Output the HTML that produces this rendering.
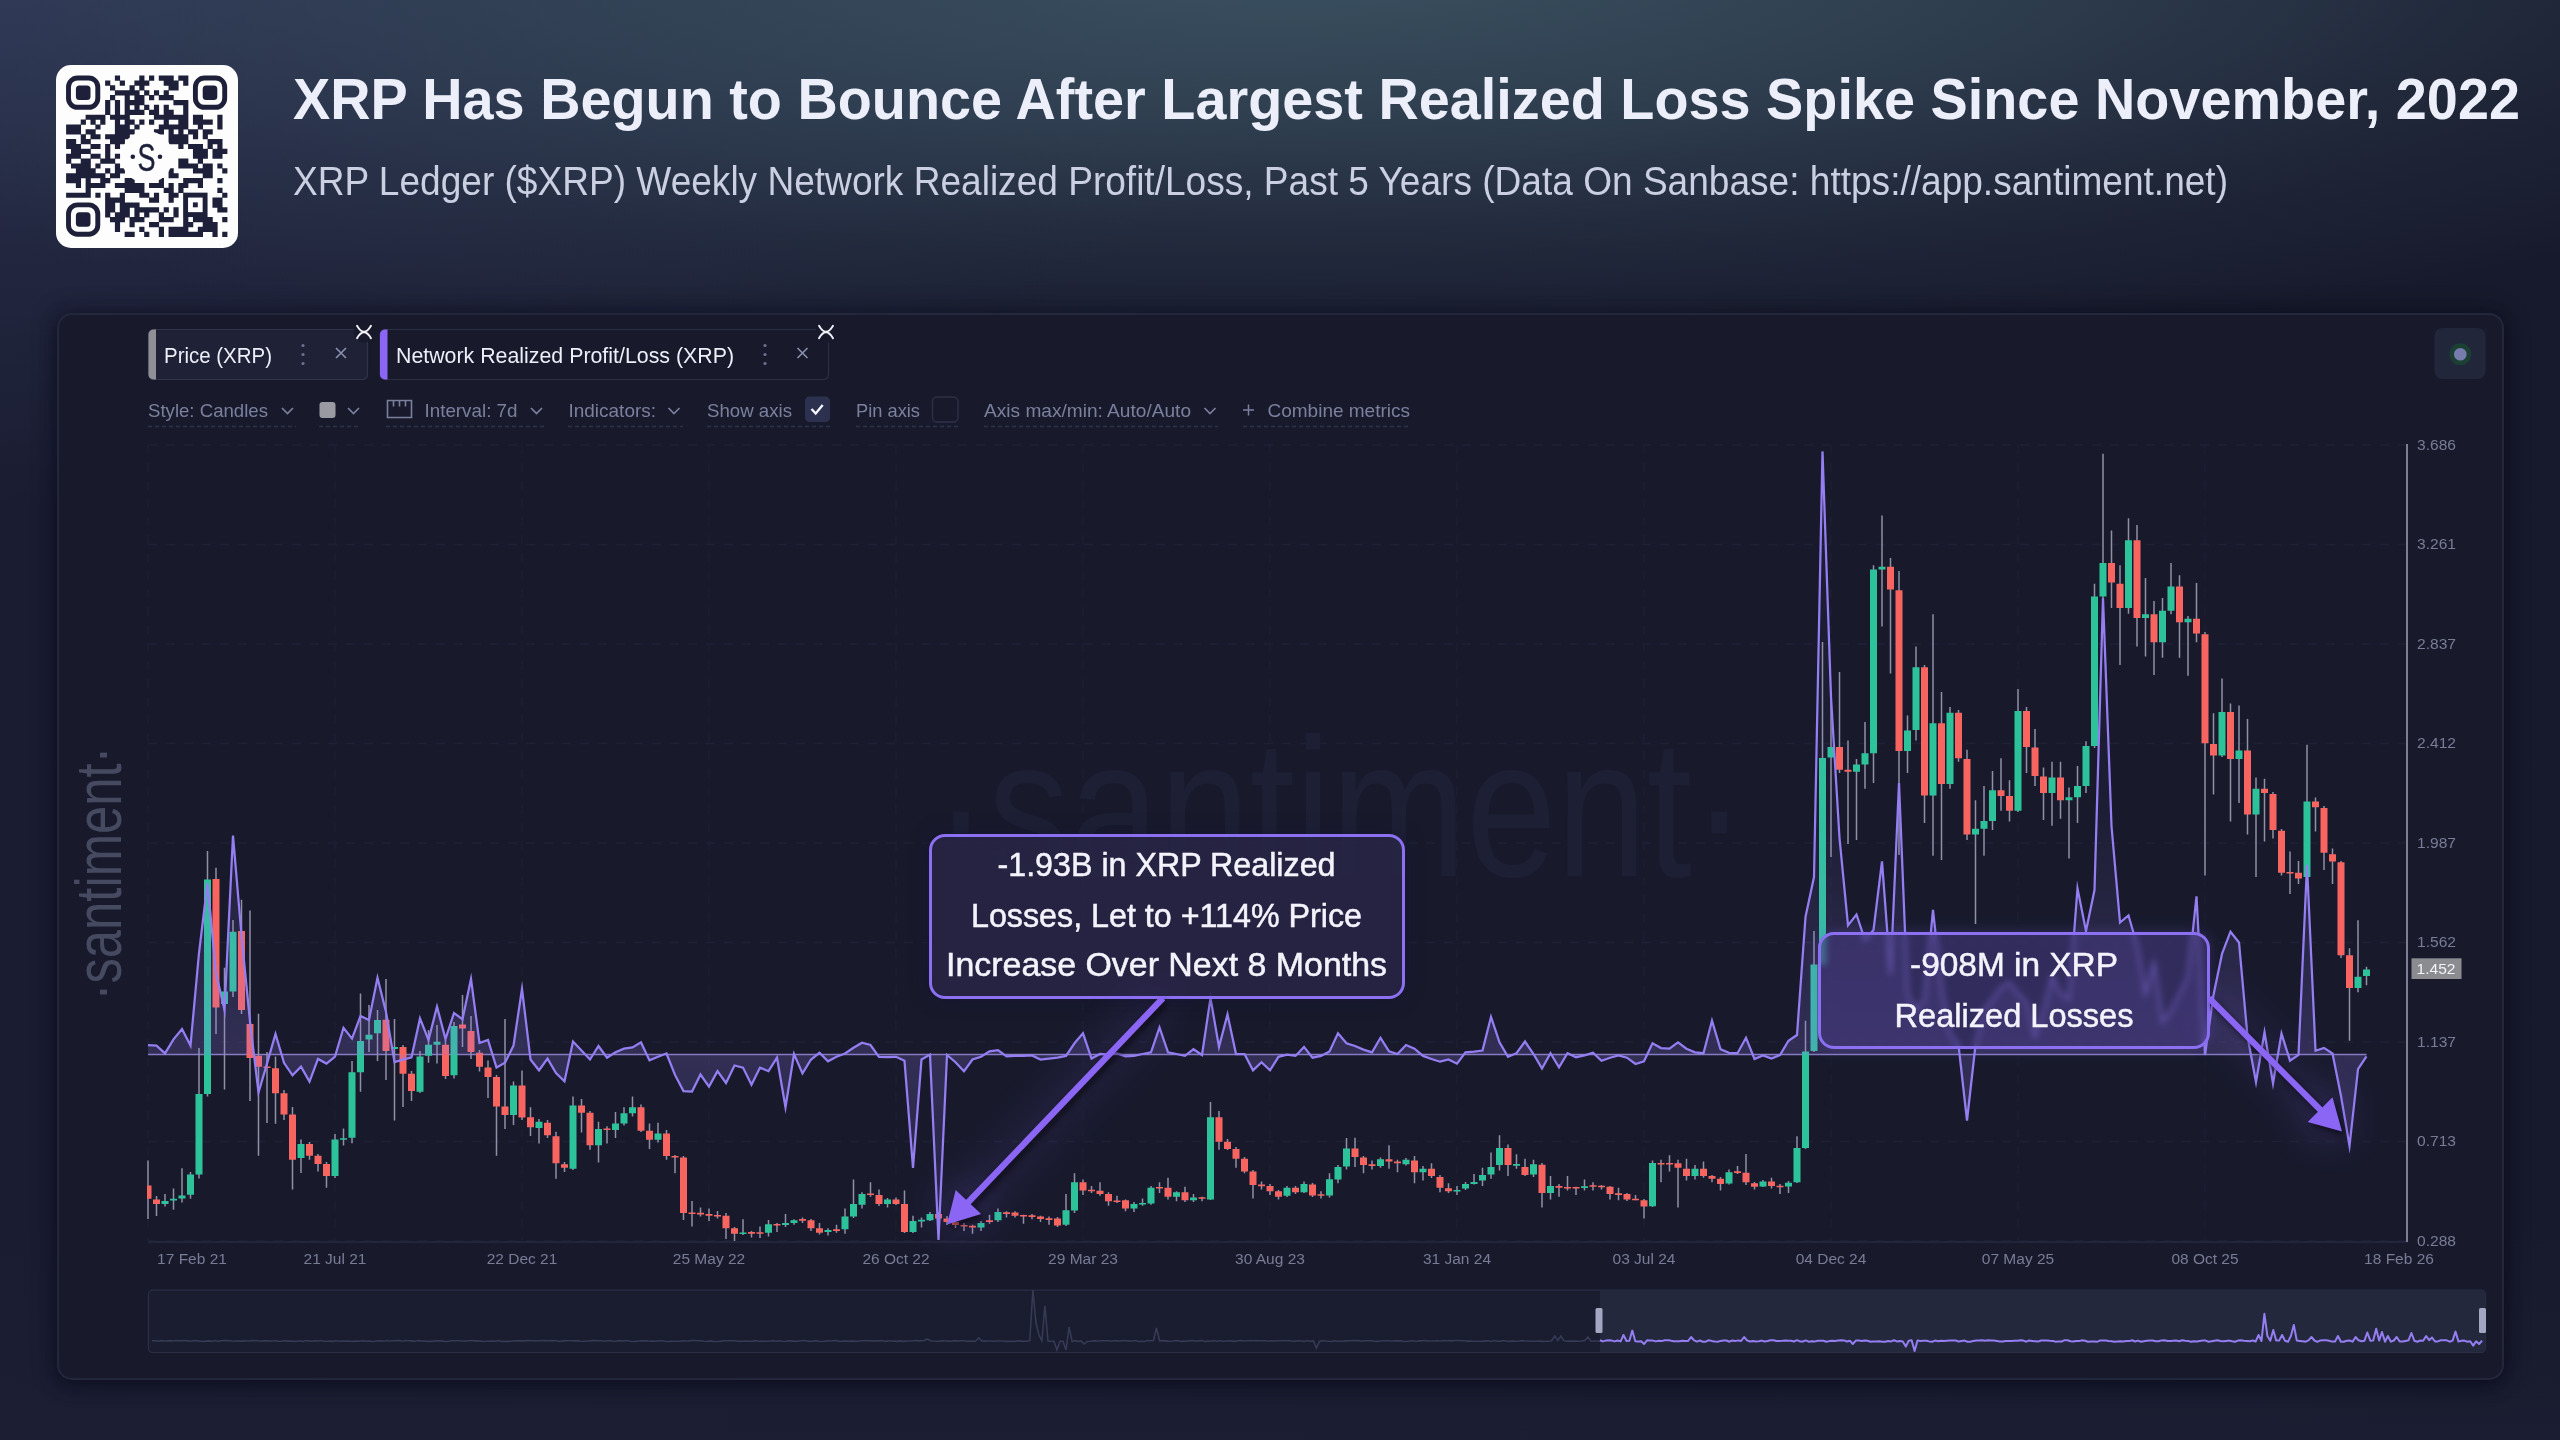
<!DOCTYPE html>
<html><head><meta charset="utf-8"><title>XRP Realized Loss</title>
<style>
html,body{margin:0;padding:0;}
body{width:2560px;height:1440px;overflow:hidden;position:relative;font-family:"Liberation Sans", sans-serif;
background:
 radial-gradient(ellipse 1800px 400px at 1300px -30px, rgba(58,80,96,1) 0%, rgba(58,80,96,0.66) 38%, rgba(58,80,96,0.22) 72%, rgba(58,80,96,0) 100%),
 radial-gradient(ellipse 1500px 620px at -100px -110px, rgba(54,62,100,0.85) 0%, rgba(54,62,100,0.3) 55%, rgba(54,62,100,0) 100%),
 linear-gradient(180deg, rgba(28,31,52,0) 0%, rgba(28,31,52,0) 85%, rgba(30,32,54,0.5) 100%),
 linear-gradient(90deg,#1a1d31 0%,#191c2f 50%,#171a2c 100%);}
.panel{position:absolute;left:57px;top:313px;width:2447px;height:1066.5px;border-radius:15px;background:#181a2c;border:2px solid #23273c;box-sizing:border-box;box-shadow:0 5px 16px rgba(8,10,26,0.6), 0 0 26px rgba(10,12,26,0.45);}
svg{position:absolute;left:0;top:0;will-change:transform;}
.ann{position:absolute;box-sizing:border-box;border:3px solid #8c70f2;border-radius:16px;color:#f3f2fb;text-align:center;font-size:32.5px;}
.ann span{position:absolute;left:0;right:0;white-space:nowrap;display:block;}
#a1{left:929px;top:834px;width:476px;height:165px;background:rgba(40,36,70,0.88);box-shadow:0 0 18px rgba(20,16,50,0.5);}
#a2{left:1818px;top:932px;width:392px;height:117px;background:rgba(72,58,132,0.56);-webkit-backdrop-filter:blur(3px);backdrop-filter:blur(3px);box-shadow:0 0 14px rgba(120,95,230,0.25);}
</style></head><body>
<div class="panel"></div>
<svg width="2560" height="1440" viewBox="0 0 2560 1440">
<rect x="56" y="65" width="182" height="183" rx="15" fill="#fdfdfe"/>
<path d="M114.89,75.60h5.18v5.18h-5.18zM139.28,75.60h5.18v5.18h-5.18zM149.04,75.60h5.18v5.18h-5.18zM158.80,75.60h5.18v5.18h-5.18zM163.68,75.60h5.18v5.18h-5.18zM168.55,75.60h5.18v5.18h-5.18zM178.31,75.60h5.18v5.18h-5.18zM183.19,75.60h5.18v5.18h-5.18zM105.13,80.48h5.18v5.18h-5.18zM119.77,80.48h5.18v5.18h-5.18zM134.40,80.48h5.18v5.18h-5.18zM139.28,80.48h5.18v5.18h-5.18zM144.16,80.48h5.18v5.18h-5.18zM163.68,80.48h5.18v5.18h-5.18zM168.55,80.48h5.18v5.18h-5.18zM173.43,80.48h5.18v5.18h-5.18zM183.19,80.48h5.18v5.18h-5.18zM110.01,85.36h5.18v5.18h-5.18zM129.52,85.36h5.18v5.18h-5.18zM139.28,85.36h5.18v5.18h-5.18zM168.55,85.36h5.18v5.18h-5.18zM173.43,85.36h5.18v5.18h-5.18zM114.89,90.24h5.18v5.18h-5.18zM119.77,90.24h5.18v5.18h-5.18zM124.65,90.24h5.18v5.18h-5.18zM129.52,90.24h5.18v5.18h-5.18zM134.40,90.24h5.18v5.18h-5.18zM144.16,90.24h5.18v5.18h-5.18zM153.92,90.24h5.18v5.18h-5.18zM163.68,90.24h5.18v5.18h-5.18zM110.01,95.12h5.18v5.18h-5.18zM124.65,95.12h5.18v5.18h-5.18zM134.40,95.12h5.18v5.18h-5.18zM139.28,95.12h5.18v5.18h-5.18zM149.04,95.12h5.18v5.18h-5.18zM158.80,95.12h5.18v5.18h-5.18zM163.68,95.12h5.18v5.18h-5.18zM168.55,95.12h5.18v5.18h-5.18zM105.13,99.99h5.18v5.18h-5.18zM114.89,99.99h5.18v5.18h-5.18zM124.65,99.99h5.18v5.18h-5.18zM129.52,99.99h5.18v5.18h-5.18zM134.40,99.99h5.18v5.18h-5.18zM139.28,99.99h5.18v5.18h-5.18zM173.43,99.99h5.18v5.18h-5.18zM178.31,99.99h5.18v5.18h-5.18zM183.19,99.99h5.18v5.18h-5.18zM105.13,104.87h5.18v5.18h-5.18zM114.89,104.87h5.18v5.18h-5.18zM124.65,104.87h5.18v5.18h-5.18zM134.40,104.87h5.18v5.18h-5.18zM144.16,104.87h5.18v5.18h-5.18zM153.92,104.87h5.18v5.18h-5.18zM163.68,104.87h5.18v5.18h-5.18zM183.19,104.87h5.18v5.18h-5.18zM105.13,109.75h5.18v5.18h-5.18zM114.89,109.75h5.18v5.18h-5.18zM124.65,109.75h5.18v5.18h-5.18zM129.52,109.75h5.18v5.18h-5.18zM134.40,109.75h5.18v5.18h-5.18zM139.28,109.75h5.18v5.18h-5.18zM149.04,109.75h5.18v5.18h-5.18zM153.92,109.75h5.18v5.18h-5.18zM163.68,109.75h5.18v5.18h-5.18zM168.55,109.75h5.18v5.18h-5.18zM183.19,109.75h5.18v5.18h-5.18zM85.62,114.63h5.18v5.18h-5.18zM90.49,114.63h5.18v5.18h-5.18zM95.37,114.63h5.18v5.18h-5.18zM100.25,114.63h5.18v5.18h-5.18zM110.01,114.63h5.18v5.18h-5.18zM114.89,114.63h5.18v5.18h-5.18zM119.77,114.63h5.18v5.18h-5.18zM124.65,114.63h5.18v5.18h-5.18zM153.92,114.63h5.18v5.18h-5.18zM158.80,114.63h5.18v5.18h-5.18zM163.68,114.63h5.18v5.18h-5.18zM168.55,114.63h5.18v5.18h-5.18zM173.43,114.63h5.18v5.18h-5.18zM178.31,114.63h5.18v5.18h-5.18zM183.19,114.63h5.18v5.18h-5.18zM192.95,114.63h5.18v5.18h-5.18zM197.83,114.63h5.18v5.18h-5.18zM217.34,114.63h5.18v5.18h-5.18zM80.74,119.51h5.18v5.18h-5.18zM90.49,119.51h5.18v5.18h-5.18zM100.25,119.51h5.18v5.18h-5.18zM114.89,119.51h5.18v5.18h-5.18zM124.65,119.51h5.18v5.18h-5.18zM129.52,119.51h5.18v5.18h-5.18zM139.28,119.51h5.18v5.18h-5.18zM149.04,119.51h5.18v5.18h-5.18zM163.68,119.51h5.18v5.18h-5.18zM178.31,119.51h5.18v5.18h-5.18zM183.19,119.51h5.18v5.18h-5.18zM192.95,119.51h5.18v5.18h-5.18zM197.83,119.51h5.18v5.18h-5.18zM202.71,119.51h5.18v5.18h-5.18zM207.58,119.51h5.18v5.18h-5.18zM217.34,119.51h5.18v5.18h-5.18zM66.10,124.39h5.18v5.18h-5.18zM70.98,124.39h5.18v5.18h-5.18zM75.86,124.39h5.18v5.18h-5.18zM95.37,124.39h5.18v5.18h-5.18zM114.89,124.39h5.18v5.18h-5.18zM119.77,124.39h5.18v5.18h-5.18zM124.65,124.39h5.18v5.18h-5.18zM134.40,124.39h5.18v5.18h-5.18zM158.80,124.39h5.18v5.18h-5.18zM163.68,124.39h5.18v5.18h-5.18zM168.55,124.39h5.18v5.18h-5.18zM173.43,124.39h5.18v5.18h-5.18zM178.31,124.39h5.18v5.18h-5.18zM183.19,124.39h5.18v5.18h-5.18zM197.83,124.39h5.18v5.18h-5.18zM217.34,124.39h5.18v5.18h-5.18zM66.10,129.27h5.18v5.18h-5.18zM70.98,129.27h5.18v5.18h-5.18zM75.86,129.27h5.18v5.18h-5.18zM85.62,129.27h5.18v5.18h-5.18zM90.49,129.27h5.18v5.18h-5.18zM114.89,129.27h5.18v5.18h-5.18zM119.77,129.27h5.18v5.18h-5.18zM124.65,129.27h5.18v5.18h-5.18zM129.52,129.27h5.18v5.18h-5.18zM153.92,129.27h5.18v5.18h-5.18zM158.80,129.27h5.18v5.18h-5.18zM168.55,129.27h5.18v5.18h-5.18zM178.31,129.27h5.18v5.18h-5.18zM188.07,129.27h5.18v5.18h-5.18zM192.95,129.27h5.18v5.18h-5.18zM202.71,129.27h5.18v5.18h-5.18zM207.58,129.27h5.18v5.18h-5.18zM80.74,134.15h5.18v5.18h-5.18zM90.49,134.15h5.18v5.18h-5.18zM95.37,134.15h5.18v5.18h-5.18zM105.13,134.15h5.18v5.18h-5.18zM110.01,134.15h5.18v5.18h-5.18zM114.89,134.15h5.18v5.18h-5.18zM119.77,134.15h5.18v5.18h-5.18zM124.65,134.15h5.18v5.18h-5.18zM168.55,134.15h5.18v5.18h-5.18zM173.43,134.15h5.18v5.18h-5.18zM178.31,134.15h5.18v5.18h-5.18zM183.19,134.15h5.18v5.18h-5.18zM192.95,134.15h5.18v5.18h-5.18zM202.71,134.15h5.18v5.18h-5.18zM66.10,139.02h5.18v5.18h-5.18zM70.98,139.02h5.18v5.18h-5.18zM80.74,139.02h5.18v5.18h-5.18zM85.62,139.02h5.18v5.18h-5.18zM110.01,139.02h5.18v5.18h-5.18zM114.89,139.02h5.18v5.18h-5.18zM119.77,139.02h5.18v5.18h-5.18zM168.55,139.02h5.18v5.18h-5.18zM173.43,139.02h5.18v5.18h-5.18zM178.31,139.02h5.18v5.18h-5.18zM183.19,139.02h5.18v5.18h-5.18zM207.58,139.02h5.18v5.18h-5.18zM212.46,139.02h5.18v5.18h-5.18zM217.34,139.02h5.18v5.18h-5.18zM66.10,143.90h5.18v5.18h-5.18zM70.98,143.90h5.18v5.18h-5.18zM75.86,143.90h5.18v5.18h-5.18zM90.49,143.90h5.18v5.18h-5.18zM95.37,143.90h5.18v5.18h-5.18zM105.13,143.90h5.18v5.18h-5.18zM114.89,143.90h5.18v5.18h-5.18zM178.31,143.90h5.18v5.18h-5.18zM188.07,143.90h5.18v5.18h-5.18zM192.95,143.90h5.18v5.18h-5.18zM197.83,143.90h5.18v5.18h-5.18zM207.58,143.90h5.18v5.18h-5.18zM217.34,143.90h5.18v5.18h-5.18zM70.98,148.78h5.18v5.18h-5.18zM75.86,148.78h5.18v5.18h-5.18zM80.74,148.78h5.18v5.18h-5.18zM85.62,148.78h5.18v5.18h-5.18zM105.13,148.78h5.18v5.18h-5.18zM192.95,148.78h5.18v5.18h-5.18zM197.83,148.78h5.18v5.18h-5.18zM202.71,148.78h5.18v5.18h-5.18zM212.46,148.78h5.18v5.18h-5.18zM217.34,148.78h5.18v5.18h-5.18zM222.22,148.78h5.18v5.18h-5.18zM66.10,153.66h5.18v5.18h-5.18zM70.98,153.66h5.18v5.18h-5.18zM75.86,153.66h5.18v5.18h-5.18zM90.49,153.66h5.18v5.18h-5.18zM95.37,153.66h5.18v5.18h-5.18zM105.13,153.66h5.18v5.18h-5.18zM114.89,153.66h5.18v5.18h-5.18zM192.95,153.66h5.18v5.18h-5.18zM197.83,153.66h5.18v5.18h-5.18zM202.71,153.66h5.18v5.18h-5.18zM212.46,153.66h5.18v5.18h-5.18zM217.34,153.66h5.18v5.18h-5.18zM66.10,158.54h5.18v5.18h-5.18zM80.74,158.54h5.18v5.18h-5.18zM85.62,158.54h5.18v5.18h-5.18zM100.25,158.54h5.18v5.18h-5.18zM105.13,158.54h5.18v5.18h-5.18zM110.01,158.54h5.18v5.18h-5.18zM178.31,158.54h5.18v5.18h-5.18zM183.19,158.54h5.18v5.18h-5.18zM197.83,158.54h5.18v5.18h-5.18zM70.98,163.42h5.18v5.18h-5.18zM75.86,163.42h5.18v5.18h-5.18zM80.74,163.42h5.18v5.18h-5.18zM85.62,163.42h5.18v5.18h-5.18zM95.37,163.42h5.18v5.18h-5.18zM114.89,163.42h5.18v5.18h-5.18zM178.31,163.42h5.18v5.18h-5.18zM183.19,163.42h5.18v5.18h-5.18zM188.07,163.42h5.18v5.18h-5.18zM192.95,163.42h5.18v5.18h-5.18zM202.71,163.42h5.18v5.18h-5.18zM207.58,163.42h5.18v5.18h-5.18zM217.34,163.42h5.18v5.18h-5.18zM75.86,168.30h5.18v5.18h-5.18zM80.74,168.30h5.18v5.18h-5.18zM85.62,168.30h5.18v5.18h-5.18zM90.49,168.30h5.18v5.18h-5.18zM105.13,168.30h5.18v5.18h-5.18zM114.89,168.30h5.18v5.18h-5.18zM119.77,168.30h5.18v5.18h-5.18zM168.55,168.30h5.18v5.18h-5.18zM192.95,168.30h5.18v5.18h-5.18zM197.83,168.30h5.18v5.18h-5.18zM202.71,168.30h5.18v5.18h-5.18zM207.58,168.30h5.18v5.18h-5.18zM222.22,168.30h5.18v5.18h-5.18zM66.10,173.18h5.18v5.18h-5.18zM70.98,173.18h5.18v5.18h-5.18zM75.86,173.18h5.18v5.18h-5.18zM80.74,173.18h5.18v5.18h-5.18zM85.62,173.18h5.18v5.18h-5.18zM90.49,173.18h5.18v5.18h-5.18zM95.37,173.18h5.18v5.18h-5.18zM100.25,173.18h5.18v5.18h-5.18zM110.01,173.18h5.18v5.18h-5.18zM114.89,173.18h5.18v5.18h-5.18zM168.55,173.18h5.18v5.18h-5.18zM173.43,173.18h5.18v5.18h-5.18zM202.71,173.18h5.18v5.18h-5.18zM207.58,173.18h5.18v5.18h-5.18zM66.10,178.05h5.18v5.18h-5.18zM70.98,178.05h5.18v5.18h-5.18zM75.86,178.05h5.18v5.18h-5.18zM85.62,178.05h5.18v5.18h-5.18zM100.25,178.05h5.18v5.18h-5.18zM105.13,178.05h5.18v5.18h-5.18zM124.65,178.05h5.18v5.18h-5.18zM129.52,178.05h5.18v5.18h-5.18zM158.80,178.05h5.18v5.18h-5.18zM183.19,178.05h5.18v5.18h-5.18zM188.07,178.05h5.18v5.18h-5.18zM192.95,178.05h5.18v5.18h-5.18zM197.83,178.05h5.18v5.18h-5.18zM217.34,178.05h5.18v5.18h-5.18zM75.86,182.93h5.18v5.18h-5.18zM85.62,182.93h5.18v5.18h-5.18zM90.49,182.93h5.18v5.18h-5.18zM95.37,182.93h5.18v5.18h-5.18zM100.25,182.93h5.18v5.18h-5.18zM114.89,182.93h5.18v5.18h-5.18zM119.77,182.93h5.18v5.18h-5.18zM124.65,182.93h5.18v5.18h-5.18zM129.52,182.93h5.18v5.18h-5.18zM134.40,182.93h5.18v5.18h-5.18zM139.28,182.93h5.18v5.18h-5.18zM149.04,182.93h5.18v5.18h-5.18zM153.92,182.93h5.18v5.18h-5.18zM158.80,182.93h5.18v5.18h-5.18zM168.55,182.93h5.18v5.18h-5.18zM178.31,182.93h5.18v5.18h-5.18zM183.19,182.93h5.18v5.18h-5.18zM197.83,182.93h5.18v5.18h-5.18zM85.62,187.81h5.18v5.18h-5.18zM124.65,187.81h5.18v5.18h-5.18zM129.52,187.81h5.18v5.18h-5.18zM134.40,187.81h5.18v5.18h-5.18zM139.28,187.81h5.18v5.18h-5.18zM163.68,187.81h5.18v5.18h-5.18zM168.55,187.81h5.18v5.18h-5.18zM178.31,187.81h5.18v5.18h-5.18zM217.34,187.81h5.18v5.18h-5.18zM66.10,192.69h5.18v5.18h-5.18zM70.98,192.69h5.18v5.18h-5.18zM75.86,192.69h5.18v5.18h-5.18zM80.74,192.69h5.18v5.18h-5.18zM85.62,192.69h5.18v5.18h-5.18zM95.37,192.69h5.18v5.18h-5.18zM105.13,192.69h5.18v5.18h-5.18zM119.77,192.69h5.18v5.18h-5.18zM139.28,192.69h5.18v5.18h-5.18zM144.16,192.69h5.18v5.18h-5.18zM153.92,192.69h5.18v5.18h-5.18zM168.55,192.69h5.18v5.18h-5.18zM173.43,192.69h5.18v5.18h-5.18zM222.22,192.69h5.18v5.18h-5.18zM105.13,197.57h5.18v5.18h-5.18zM110.01,197.57h5.18v5.18h-5.18zM114.89,197.57h5.18v5.18h-5.18zM119.77,197.57h5.18v5.18h-5.18zM149.04,197.57h5.18v5.18h-5.18zM153.92,197.57h5.18v5.18h-5.18zM168.55,197.57h5.18v5.18h-5.18zM212.46,197.57h5.18v5.18h-5.18zM217.34,197.57h5.18v5.18h-5.18zM105.13,202.45h5.18v5.18h-5.18zM110.01,202.45h5.18v5.18h-5.18zM119.77,202.45h5.18v5.18h-5.18zM124.65,202.45h5.18v5.18h-5.18zM129.52,202.45h5.18v5.18h-5.18zM134.40,202.45h5.18v5.18h-5.18zM212.46,202.45h5.18v5.18h-5.18zM217.34,202.45h5.18v5.18h-5.18zM105.13,207.33h5.18v5.18h-5.18zM110.01,207.33h5.18v5.18h-5.18zM119.77,207.33h5.18v5.18h-5.18zM124.65,207.33h5.18v5.18h-5.18zM134.40,207.33h5.18v5.18h-5.18zM139.28,207.33h5.18v5.18h-5.18zM144.16,207.33h5.18v5.18h-5.18zM149.04,207.33h5.18v5.18h-5.18zM153.92,207.33h5.18v5.18h-5.18zM163.68,207.33h5.18v5.18h-5.18zM173.43,207.33h5.18v5.18h-5.18zM217.34,207.33h5.18v5.18h-5.18zM222.22,207.33h5.18v5.18h-5.18zM105.13,212.21h5.18v5.18h-5.18zM114.89,212.21h5.18v5.18h-5.18zM119.77,212.21h5.18v5.18h-5.18zM124.65,212.21h5.18v5.18h-5.18zM134.40,212.21h5.18v5.18h-5.18zM144.16,212.21h5.18v5.18h-5.18zM158.80,212.21h5.18v5.18h-5.18zM173.43,212.21h5.18v5.18h-5.18zM110.01,217.08h5.18v5.18h-5.18zM114.89,217.08h5.18v5.18h-5.18zM119.77,217.08h5.18v5.18h-5.18zM129.52,217.08h5.18v5.18h-5.18zM134.40,217.08h5.18v5.18h-5.18zM139.28,217.08h5.18v5.18h-5.18zM158.80,217.08h5.18v5.18h-5.18zM163.68,217.08h5.18v5.18h-5.18zM168.55,217.08h5.18v5.18h-5.18zM183.19,217.08h5.18v5.18h-5.18zM192.95,217.08h5.18v5.18h-5.18zM197.83,217.08h5.18v5.18h-5.18zM202.71,217.08h5.18v5.18h-5.18zM207.58,217.08h5.18v5.18h-5.18zM222.22,217.08h5.18v5.18h-5.18zM114.89,221.96h5.18v5.18h-5.18zM129.52,221.96h5.18v5.18h-5.18zM149.04,221.96h5.18v5.18h-5.18zM153.92,221.96h5.18v5.18h-5.18zM183.19,221.96h5.18v5.18h-5.18zM188.07,221.96h5.18v5.18h-5.18zM202.71,221.96h5.18v5.18h-5.18zM207.58,221.96h5.18v5.18h-5.18zM212.46,221.96h5.18v5.18h-5.18zM114.89,226.84h5.18v5.18h-5.18zM139.28,226.84h5.18v5.18h-5.18zM158.80,226.84h5.18v5.18h-5.18zM168.55,226.84h5.18v5.18h-5.18zM173.43,226.84h5.18v5.18h-5.18zM178.31,226.84h5.18v5.18h-5.18zM183.19,226.84h5.18v5.18h-5.18zM197.83,226.84h5.18v5.18h-5.18zM202.71,226.84h5.18v5.18h-5.18zM207.58,226.84h5.18v5.18h-5.18zM212.46,226.84h5.18v5.18h-5.18zM124.65,231.72h5.18v5.18h-5.18zM129.52,231.72h5.18v5.18h-5.18zM144.16,231.72h5.18v5.18h-5.18zM158.80,231.72h5.18v5.18h-5.18zM168.55,231.72h5.18v5.18h-5.18zM173.43,231.72h5.18v5.18h-5.18zM178.31,231.72h5.18v5.18h-5.18zM183.19,231.72h5.18v5.18h-5.18zM188.07,231.72h5.18v5.18h-5.18zM192.95,231.72h5.18v5.18h-5.18zM197.83,231.72h5.18v5.18h-5.18zM212.46,231.72h5.18v5.18h-5.18zM222.22,231.72h5.18v5.18h-5.18z" fill="#1d2038"/>
<rect x="68.5" y="78.0" width="29.3" height="29.3" rx="9" fill="none" stroke="#1d2038" stroke-width="4.9"/>
<rect x="75.9" y="85.4" width="14.6" height="14.6" rx="3.5" fill="#1d2038"/>
<rect x="195.4" y="78.0" width="29.3" height="29.3" rx="9" fill="none" stroke="#1d2038" stroke-width="4.9"/>
<rect x="202.7" y="85.4" width="14.6" height="14.6" rx="3.5" fill="#1d2038"/>
<rect x="68.5" y="204.9" width="29.3" height="29.3" rx="9" fill="none" stroke="#1d2038" stroke-width="4.9"/>
<rect x="75.9" y="212.2" width="14.6" height="14.6" rx="3.5" fill="#1d2038"/>
<rect x="185.6" y="195.1" width="19.5" height="19.5" fill="none" stroke="#1d2038" stroke-width="4.9"/><rect x="192.9" y="202.4" width="4.9" height="4.9" fill="#1d2038"/>
<circle cx="147" cy="157" r="26" fill="#fdfdfe"/>
<text x="146.5" y="170.5" text-anchor="middle" font-family='"Liberation Sans", sans-serif' font-size="38.5" fill="#1d2038" stroke="#1d2038" stroke-width="0.4" textLength="18" lengthAdjust="spacingAndGlyphs">S</text><circle cx="132.8" cy="156.7" r="2.3" fill="#1d2038"/><circle cx="160" cy="156.7" r="2.3" fill="#1d2038"/>
<text x="293" y="119" font-family='"Liberation Sans", sans-serif' font-weight="700" font-size="56.8" fill="#eceff9" textLength="2227" lengthAdjust="spacingAndGlyphs">XRP Has Begun to Bounce After Largest Realized Loss Spike Since November, 2022</text>
<text x="293" y="194.6" font-family='"Liberation Sans", sans-serif' font-size="40" fill="#cacfe1" textLength="1935" lengthAdjust="spacingAndGlyphs">XRP Ledger ($XRP) Weekly Network Realized Profit/Loss, Past 5 Years (Data On Sanbase: https://app.santiment.net)</text>
<rect x="148.5" y="329.5" width="219" height="50" rx="5" fill="#1f2236" stroke="#30344b" stroke-width="1.2"/>
<path d="M153.5,329.5 h2.5 v50 h-2.5 a5,5 0 0 1 -5,-5 v-40 a5,5 0 0 1 5,-5z" fill="#8f9095"/>
<text x="164" y="362.5" font-family='"Liberation Sans", sans-serif' font-size="22" fill="#eceef8" textLength="108" lengthAdjust="spacingAndGlyphs">Price (XRP)</text>
<rect x="380" y="329.5" width="448.5" height="50" rx="5" fill="#181a2c" stroke="#2b2f46" stroke-width="1.2"/>
<path d="M385,329.5 h2.5 v50 h-2.5 a5,5 0 0 1 -5,-5 v-40 a5,5 0 0 1 5,-5z" fill="#8b66f5"/>
<text x="396" y="362.5" font-family='"Liberation Sans", sans-serif' font-size="22" fill="#eceef8" textLength="338" lengthAdjust="spacingAndGlyphs">Network Realized Profit/Loss (XRP)</text>
<circle cx="303" cy="345.5" r="1.6" fill="#6d7291"/>
<circle cx="303" cy="354.5" r="1.6" fill="#6d7291"/>
<circle cx="303" cy="363.5" r="1.6" fill="#6d7291"/>
<circle cx="765" cy="345.5" r="1.6" fill="#6d7291"/>
<circle cx="765" cy="354.5" r="1.6" fill="#6d7291"/>
<circle cx="765" cy="363.5" r="1.6" fill="#6d7291"/>
<path d="M336,348 l10,10 M346,348 l-10,10" stroke="#8a90ad" stroke-width="1.6" fill="none"/>
<path d="M797.5,348 l10,10 M807.5,348 l-10,10" stroke="#8a90ad" stroke-width="1.6" fill="none"/>
<circle cx="364" cy="332" r="10.5" fill="#181a2c"/>
<path d="M357,325.7 Q364,337.7 371,325.7 M357,338.3 Q364,326.3 371,338.3" stroke="#f2f3f8" stroke-width="1.9" fill="none" stroke-linecap="round"/>
<circle cx="826" cy="332" r="10.5" fill="#181a2c"/>
<path d="M819,325.7 Q826,337.7 833,325.7 M819,338.3 Q826,326.3 833,338.3" stroke="#f2f3f8" stroke-width="1.9" fill="none" stroke-linecap="round"/>
<text x="148" y="416.5" font-family='"Liberation Sans", sans-serif' font-size="19" fill="#7a809d" textLength="120" lengthAdjust="spacingAndGlyphs">Style: Candles</text>
<path d="M282.0,408 l5.5,5.5 l5.5,-5.5" stroke="#7a809d" stroke-width="1.7" fill="none"/>
<line x1="148" x2="296" y1="426.5" y2="426.5" stroke="#2c3047" stroke-width="1.3" stroke-dasharray="4 3"/>
<rect x="319.5" y="402" width="16" height="16" rx="3" fill="#9a9ba2"/>
<path d="M348.0,408 l5.5,5.5 l5.5,-5.5" stroke="#7a809d" stroke-width="1.7" fill="none"/>
<line x1="319" x2="361" y1="426.5" y2="426.5" stroke="#2c3047" stroke-width="1.3" stroke-dasharray="4 3"/>
<path d="M387.5,400.5 h24 v17 h-24 z M393.5,400.5 v6 M399.5,400.5 v6 M405.5,400.5 v6" stroke="#7a809d" stroke-width="1.6" fill="none"/>
<text x="424.5" y="416.5" font-family='"Liberation Sans", sans-serif' font-size="19" fill="#7a809d" textLength="93" lengthAdjust="spacingAndGlyphs">Interval: 7d</text>
<path d="M531.0,408 l5.5,5.5 l5.5,-5.5" stroke="#7a809d" stroke-width="1.7" fill="none"/>
<line x1="386" x2="545" y1="426.5" y2="426.5" stroke="#2c3047" stroke-width="1.3" stroke-dasharray="4 3"/>
<text x="568.5" y="416.5" font-family='"Liberation Sans", sans-serif' font-size="19" fill="#7a809d" textLength="87.5" lengthAdjust="spacingAndGlyphs">Indicators:</text>
<path d="M668.5,408 l5.5,5.5 l5.5,-5.5" stroke="#7a809d" stroke-width="1.7" fill="none"/>
<line x1="568" x2="683" y1="426.5" y2="426.5" stroke="#2c3047" stroke-width="1.3" stroke-dasharray="4 3"/>
<text x="707" y="416.5" font-family='"Liberation Sans", sans-serif' font-size="19" fill="#7a809d" textLength="85" lengthAdjust="spacingAndGlyphs">Show axis</text>
<rect x="805" y="396.5" width="25" height="25.5" rx="4.5" fill="#2d3150"/><path d="M811.5,409 l4.2,4.5 l7,-8.5" stroke="#f4f5fb" stroke-width="2.4" fill="none"/>
<line x1="707" x2="830" y1="426.5" y2="426.5" stroke="#2c3047" stroke-width="1.3" stroke-dasharray="4 3"/>
<text x="856" y="416.5" font-family='"Liberation Sans", sans-serif' font-size="19" fill="#7a809d" textLength="64" lengthAdjust="spacingAndGlyphs">Pin axis</text>
<rect x="932.5" y="397" width="25.5" height="25" rx="4.5" fill="#181a2c" stroke="#2c3047" stroke-width="1.4"/>
<line x1="856" x2="958" y1="426.5" y2="426.5" stroke="#2c3047" stroke-width="1.3" stroke-dasharray="4 3"/>
<text x="984" y="416.5" font-family='"Liberation Sans", sans-serif' font-size="19" fill="#7a809d" textLength="207" lengthAdjust="spacingAndGlyphs">Axis max/min: Auto/Auto</text>
<path d="M1204.5,408 l5.5,5.5 l5.5,-5.5" stroke="#7a809d" stroke-width="1.7" fill="none"/>
<line x1="984" x2="1218" y1="426.5" y2="426.5" stroke="#2c3047" stroke-width="1.3" stroke-dasharray="4 3"/>
<path d="M1243,410 h11 M1248.5,404.5 v11" stroke="#7a809d" stroke-width="1.5"/>
<text x="1267.5" y="416.5" font-family='"Liberation Sans", sans-serif' font-size="19" fill="#7a809d" textLength="142.5" lengthAdjust="spacingAndGlyphs">Combine metrics</text>
<line x1="1243" x2="1410" y1="426.5" y2="426.5" stroke="#2c3047" stroke-width="1.3" stroke-dasharray="4 3"/>
<rect x="2434.5" y="328" width="51" height="51" rx="8" fill="#22263a"/><circle cx="2460.3" cy="354.2" r="11" fill="#1c3f34"/><circle cx="2460.3" cy="354.2" r="6.3" fill="#767cac"/>
<line x1="148" x2="2406" y1="445.0" y2="445.0" stroke="#1e2136" stroke-width="1.3" stroke-dasharray="9 9"/>
<line x1="148" x2="2406" y1="544.5" y2="544.5" stroke="#1e2136" stroke-width="1.3" stroke-dasharray="9 9"/>
<line x1="148" x2="2406" y1="644.0" y2="644.0" stroke="#1e2136" stroke-width="1.3" stroke-dasharray="9 9"/>
<line x1="148" x2="2406" y1="743.5" y2="743.5" stroke="#1e2136" stroke-width="1.3" stroke-dasharray="9 9"/>
<line x1="148" x2="2406" y1="843.0" y2="843.0" stroke="#1e2136" stroke-width="1.3" stroke-dasharray="9 9"/>
<line x1="148" x2="2406" y1="942.5" y2="942.5" stroke="#1e2136" stroke-width="1.3" stroke-dasharray="9 9"/>
<line x1="148" x2="2406" y1="1042.0" y2="1042.0" stroke="#1e2136" stroke-width="1.3" stroke-dasharray="9 9"/>
<line x1="148" x2="2406" y1="1141.5" y2="1141.5" stroke="#1e2136" stroke-width="1.3" stroke-dasharray="9 9"/>
<line x1="148" x2="2406" y1="1241.0" y2="1241.0" stroke="#1e2136" stroke-width="1.3" stroke-dasharray="9 9"/>
<line x1="148" x2="148" y1="445" y2="1241" stroke="#1d2035" stroke-width="1.3" stroke-dasharray="9 9"/>
<line x1="335" x2="335" y1="445" y2="1241" stroke="#1d2035" stroke-width="1.3" stroke-dasharray="9 9"/>
<line x1="522" x2="522" y1="445" y2="1241" stroke="#1d2035" stroke-width="1.3" stroke-dasharray="9 9"/>
<line x1="709" x2="709" y1="445" y2="1241" stroke="#1d2035" stroke-width="1.3" stroke-dasharray="9 9"/>
<line x1="896" x2="896" y1="445" y2="1241" stroke="#1d2035" stroke-width="1.3" stroke-dasharray="9 9"/>
<line x1="1083" x2="1083" y1="445" y2="1241" stroke="#1d2035" stroke-width="1.3" stroke-dasharray="9 9"/>
<line x1="1270" x2="1270" y1="445" y2="1241" stroke="#1d2035" stroke-width="1.3" stroke-dasharray="9 9"/>
<line x1="1457" x2="1457" y1="445" y2="1241" stroke="#1d2035" stroke-width="1.3" stroke-dasharray="9 9"/>
<line x1="1644" x2="1644" y1="445" y2="1241" stroke="#1d2035" stroke-width="1.3" stroke-dasharray="9 9"/>
<line x1="1831" x2="1831" y1="445" y2="1241" stroke="#1d2035" stroke-width="1.3" stroke-dasharray="9 9"/>
<line x1="2018" x2="2018" y1="445" y2="1241" stroke="#1d2035" stroke-width="1.3" stroke-dasharray="9 9"/>
<line x1="2205" x2="2205" y1="445" y2="1241" stroke="#1d2035" stroke-width="1.3" stroke-dasharray="9 9"/>
<line x1="148" x2="2407" y1="1242" y2="1242" stroke="#262a40" stroke-width="1.5"/>
<text x="1340" y="876" text-anchor="middle" font-family='"Liberation Sans", sans-serif' font-size="196" fill="#1d2035" textLength="812" lengthAdjust="spacingAndGlyphs">·santiment·</text>
<text transform="translate(121,1000.5) rotate(-90)" font-family='"Liberation Sans", sans-serif' font-size="65" fill="#454a61" textLength="254" lengthAdjust="spacingAndGlyphs">·santiment·</text>
<clipPath id="plot"><rect x="147" y="440" width="2258" height="806"/></clipPath>
<g clip-path="url(#plot)">
<line x1="148" x2="2366.5" y1="1054.5" y2="1054.5" stroke="#a99cf0" stroke-opacity="0.75" stroke-width="1.4"/>
<path d="M148.0,1160.5V1219.0M156.5,1196.0V1216.0M165.0,1194.0V1206.5M173.5,1188.6V1209.7M182.0,1168.3V1202.6M190.5,1172.0V1198.8M199.0,1048.0V1178.4M207.5,851.0V1096.4M216.0,867.7V1034.0M224.5,967.7V1089.4M233.0,920.0V997.0M241.5,899.7V1014.0M250.0,910.6V1101.0M258.5,1013.8V1155.8M267.0,1052.0V1123.0M275.5,1056.5V1123.8M284.0,1090.0V1120.0M292.5,1107.0V1189.4M301.0,1139.4V1173.0M309.5,1142.0V1159.7M318.0,1154.0V1171.4M326.5,1162.0V1187.8M335.0,1134.0V1178.0M343.5,1128.4V1145.6M352.0,1061.0V1143.3M360.5,993.4V1091.7M369.0,1005.0V1052.0M377.5,1010.0V1061.0M386.0,979.0V1080.0M394.5,1019.0V1120.6M403.0,1045.0V1107.0M411.5,1071.0V1101.0M420.0,1051.0V1093.0M428.5,1030.0V1062.8M437.0,1025.0V1063.6M445.5,1040.0V1079.0M454.0,1022.0V1078.4M462.5,995.0V1047.0M471.0,1016.0V1059.0M479.5,1050.0V1071.4M488.0,1060.5V1098.0M496.5,1075.0V1155.8M505.0,1019.0V1129.0M513.5,1081.6V1125.0M522.0,1070.6V1120.0M530.5,1107.3V1136.0M539.0,1119.0V1143.5M547.5,1120.0V1138.0M556.0,1131.7V1178.7M564.5,1162.0V1172.0M573.0,1096.5V1170.0M581.5,1099.0V1132.6M590.0,1111.0V1149.8M598.5,1121.8V1162.4M607.0,1126.3V1143.5M615.5,1111.9V1138.0M624.0,1107.3V1125.4M632.5,1096.5V1116.4M641.0,1104.6V1132.0M649.5,1123.6V1148.9M658.0,1122.7V1142.5M666.5,1130.0V1159.7M675.0,1155.0V1173.2M683.5,1156.0V1220.0M692.0,1201.0V1226.5M700.5,1207.5V1216.6M709.0,1208.5V1221.0M717.5,1211.0V1218.4M726.0,1213.0V1239.0M734.5,1227.0V1241.0M743.0,1219.3V1235.0M751.5,1231.0V1237.4M760.0,1226.5V1238.0M768.5,1220.0V1236.4M777.0,1222.9V1232.0M785.5,1213.9V1227.0M794.0,1219.3V1224.7M802.5,1217.5V1222.9M811.0,1219.0V1231.0M819.5,1222.9V1234.6M828.0,1228.3V1235.5M836.5,1224.7V1232.8M845.0,1208.5V1233.7M853.5,1179.6V1218.0M862.0,1192.2V1208.5M870.5,1182.3V1196.7M879.0,1189.5V1206.0M887.5,1198.0V1207.5M896.0,1197.6V1205.0M904.5,1190.4V1233.0M913.0,1215.7V1233.0M921.5,1217.5V1227.4M930.0,1212.0V1221.0M938.5,1212.0V1220.0M947.0,1216.0V1225.0M955.5,1220.0V1228.0M964.0,1223.0V1231.0M972.5,1224.7V1233.7M981.0,1221.0V1231.0M989.5,1214.8V1223.8M998.0,1208.5V1222.0M1006.5,1211.2V1217.5M1015.0,1211.2V1217.5M1023.5,1214.8V1223.8M1032.0,1213.9V1219.3M1040.5,1215.7V1222.0M1049.0,1216.6V1224.7M1057.5,1217.1V1226.9M1066.0,1194.0V1226.0M1074.5,1173.2V1213.0M1083.0,1179.6V1195.0M1091.5,1185.9V1193.1M1100.0,1182.3V1195.8M1108.5,1192.2V1205.7M1117.0,1195.8V1203.0M1125.5,1199.4V1211.2M1134.0,1202.1V1212.0M1142.5,1198.5V1205.7M1151.0,1185.9V1204.8M1159.5,1182.3V1193.0M1168.0,1177.8V1199.4M1176.5,1191.3V1201.2M1185.0,1186.8V1202.1M1193.5,1194.0V1202.1M1202.0,1196.7V1201.2M1210.5,1102.0V1200.0M1219.0,1111.0V1149.8M1227.5,1139.0V1150.0M1236.0,1147.0V1167.8M1244.5,1157.0V1173.2M1253.0,1170.0V1198.5M1261.5,1181.4V1189.5M1270.0,1184.0V1195.0M1278.5,1190.0V1199.4M1287.0,1186.0V1197.0M1295.5,1186.0V1194.0M1304.0,1181.4V1193.0M1312.5,1183.0V1197.0M1321.0,1191.3V1198.5M1329.5,1173.2V1197.6M1338.0,1165.0V1183.2M1346.5,1138.0V1169.6M1355.0,1137.7V1167.0M1363.5,1156.0V1173.2M1372.0,1160.6V1169.6M1380.5,1157.5V1167.8M1389.0,1145.3V1168.7M1397.5,1159.7V1172.3M1406.0,1157.9V1165.5M1414.5,1156.0V1183.2M1423.0,1166.0V1180.5M1431.5,1163.3V1178.0M1440.0,1175.0V1192.2M1448.5,1183.2V1193.0M1457.0,1185.9V1195.0M1465.5,1182.0V1190.0M1474.0,1174.0V1184.5M1482.5,1167.8V1185.9M1491.0,1152.5V1178.7M1499.5,1135.3V1170.5M1508.0,1144.4V1176.0M1516.5,1154.3V1168.7M1525.0,1158.8V1176.0M1533.5,1159.7V1176.9M1542.0,1163.0V1207.5M1550.5,1176.0V1199.4M1559.0,1184.0V1196.7M1567.5,1176.0V1190.4M1576.0,1186.8V1195.0M1584.5,1179.6V1190.4M1593.0,1182.3V1190.4M1601.5,1185.0V1189.5M1610.0,1186.0V1199.4M1618.5,1187.7V1200.3M1627.0,1193.0V1201.0M1635.5,1194.9V1200.3M1644.0,1199.0V1218.4M1652.5,1160.6V1207.0M1661.0,1159.7V1182.3M1669.5,1155.2V1171.4M1678.0,1159.7V1207.5M1686.5,1158.8V1180.5M1695.0,1165.0V1179.6M1703.5,1161.5V1177.8M1712.0,1175.0V1182.3M1720.5,1177.0V1190.4M1729.0,1169.6V1184.5M1737.5,1166.0V1174.0M1746.0,1153.9V1185.0M1754.5,1182.0V1189.5M1763.0,1180.0V1187.0M1771.5,1177.8V1188.6M1780.0,1184.0V1194.0M1788.5,1181.0V1193.0M1797.0,1136.2V1183.0M1805.5,1020.7V1149.0M1814.0,931.0V1052.0M1822.5,642.0V965.0M1831.0,690.6V857.0M1839.5,672.0V773.0M1848.0,740.4V844.0M1856.5,759.0V840.0M1865.0,722.0V788.8M1873.5,565.3V783.0M1882.0,515.5V626.5M1890.5,558.0V673.5M1899.0,571.0V855.0M1907.5,715.6V773.0M1916.0,646.4V740.4M1924.5,665.0V823.0M1933.0,614.3V855.7M1941.5,692.0V860.0M1950.0,707.0V788.8M1958.5,710.0V761.7M1967.0,749.8V840.0M1975.5,800.2V924.0M1984.0,786.0V855.7M1992.5,770.9V830.0M2001.0,758.3V810.7M2009.5,780.3V821.5M2018.0,689.0V812.0M2026.5,707.0V773.0M2035.0,729.0V786.0M2043.5,767.4V820.0M2052.0,761.7V825.8M2060.5,761.7V818.7M2069.0,787.4V858.5M2077.5,766.0V823.0M2086.0,741.3V793.0M2094.5,583.8V748.0M2103.0,453.7V598.0M2111.5,530.5V608.0M2120.0,565.3V665.0M2128.5,518.3V613.7M2137.0,524.9V646.4M2145.5,578.0V656.4M2154.0,600.9V675.0M2162.5,598.0V657.8M2171.0,563.0V614.3M2179.5,575.3V657.8M2188.0,616.0V675.8M2196.5,583.0V642.2M2205.0,632.0V875.6M2213.5,713.3V794.5M2222.0,678.6V757.0M2230.5,703.4V821.5M2239.0,705.4V803.0M2247.5,719.0V834.4M2256.0,777.4V877.0M2264.5,778.8V841.5M2273.0,792.0V838.6M2281.5,829.0V875.6M2290.0,851.4V894.0M2298.5,861.0V884.0M2307.0,744.7V878.0M2315.5,797.4V831.5M2324.0,806.0V870.0M2332.5,848.5V884.0M2341.0,861.0V958.0M2349.5,948.2V1040.7M2358.0,920.3V992.3M2366.5,966.7V985.2" stroke="#8f90a6" stroke-width="1.5" fill="none"/>
<path d="M161.50,1201.0h7.0V1204.0h-7.0ZM170.00,1198.8h7.0V1200.6h-7.0ZM178.50,1195.6h7.0V1198.4h-7.0ZM187.00,1174.5h7.0V1194.8h-7.0ZM195.50,1094.0h7.0V1174.5h-7.0ZM204.00,879.4h7.0V1094.0h-7.0ZM221.00,991.6h7.0V1004.0h-7.0ZM229.50,931.7h7.0V991.6h-7.0ZM297.50,1144.0h7.0V1158.0h-7.0ZM331.50,1139.4h7.0V1176.0h-7.0ZM340.00,1138.2h7.0V1139.8h-7.0ZM348.50,1072.2h7.0V1137.8h-7.0ZM357.00,1041.0h7.0V1072.2h-7.0ZM365.50,1034.7h7.0V1039.4h-7.0ZM374.00,1020.0h7.0V1033.3h-7.0ZM391.00,1047.0h7.0V1049.0h-7.0ZM416.50,1056.5h7.0V1091.7h-7.0ZM425.00,1044.8h7.0V1055.8h-7.0ZM433.50,1041.7h7.0V1044.8h-7.0ZM450.50,1026.0h7.0V1075.3h-7.0ZM510.00,1085.5h7.0V1115.0h-7.0ZM535.50,1121.8h7.0V1128.0h-7.0ZM569.50,1105.5h7.0V1168.7h-7.0ZM595.00,1129.0h7.0V1145.3h-7.0ZM612.00,1123.6h7.0V1130.0h-7.0ZM620.50,1113.3h7.0V1123.6h-7.0ZM629.00,1107.3h7.0V1113.3h-7.0ZM654.50,1133.5h7.0V1139.8h-7.0ZM739.50,1232.5h7.0V1234.0h-7.0ZM765.00,1224.3h7.0V1232.8h-7.0ZM782.00,1222.9h7.0V1225.0h-7.0ZM790.50,1220.2h7.0V1222.9h-7.0ZM824.50,1230.0h7.0V1232.0h-7.0ZM841.50,1216.6h7.0V1229.2h-7.0ZM850.00,1204.0h7.0V1216.6h-7.0ZM858.50,1194.0h7.0V1204.8h-7.0ZM884.00,1199.4h7.0V1204.0h-7.0ZM909.50,1221.0h7.0V1232.0h-7.0ZM918.00,1219.8h7.0V1221.4h-7.0ZM926.50,1213.9h7.0V1220.2h-7.0ZM977.50,1222.9h7.0V1227.4h-7.0ZM994.50,1212.0h7.0V1220.2h-7.0ZM1062.50,1210.3h7.0V1224.7h-7.0ZM1071.00,1182.3h7.0V1210.6h-7.0ZM1130.50,1204.0h7.0V1208.5h-7.0ZM1139.00,1203.0h7.0V1204.6h-7.0ZM1147.50,1187.7h7.0V1203.6h-7.0ZM1173.00,1192.2h7.0V1196.7h-7.0ZM1190.00,1197.6h7.0V1200.3h-7.0ZM1207.00,1117.3h7.0V1199.4h-7.0ZM1283.50,1187.7h7.0V1195.8h-7.0ZM1300.50,1184.0h7.0V1192.2h-7.0ZM1326.00,1179.2h7.0V1195.5h-7.0ZM1334.50,1167.0h7.0V1179.6h-7.0ZM1343.00,1148.5h7.0V1166.6h-7.0ZM1377.00,1159.3h7.0V1166.0h-7.0ZM1402.50,1159.7h7.0V1164.2h-7.0ZM1419.50,1168.7h7.0V1172.3h-7.0ZM1453.50,1190.0h7.0V1191.6h-7.0ZM1462.00,1184.0h7.0V1188.6h-7.0ZM1470.50,1182.0h7.0V1184.0h-7.0ZM1479.00,1175.0h7.0V1180.5h-7.0ZM1487.50,1167.0h7.0V1174.5h-7.0ZM1496.00,1148.0h7.0V1165.0h-7.0ZM1513.00,1164.1h7.0V1165.7h-7.0ZM1530.00,1164.2h7.0V1174.5h-7.0ZM1547.00,1185.9h7.0V1193.0h-7.0ZM1581.00,1186.3h7.0V1187.9h-7.0ZM1649.00,1163.0h7.0V1206.3h-7.0ZM1691.50,1168.7h7.0V1176.0h-7.0ZM1725.50,1172.3h7.0V1183.5h-7.0ZM1759.50,1181.4h7.0V1186.4h-7.0ZM1785.00,1182.8h7.0V1186.4h-7.0ZM1793.50,1148.0h7.0V1182.3h-7.0ZM1802.00,1051.4h7.0V1148.0h-7.0ZM1810.50,964.5h7.0V1051.0h-7.0ZM1819.00,758.0h7.0V964.5h-7.0ZM1827.50,747.0h7.0V757.5h-7.0ZM1853.00,764.6h7.0V771.7h-7.0ZM1861.50,753.2h7.0V764.6h-7.0ZM1870.00,569.6h7.0V753.2h-7.0ZM1878.50,566.7h7.0V569.6h-7.0ZM1904.00,730.4h7.0V751.0h-7.0ZM1912.50,667.2h7.0V729.9h-7.0ZM1929.50,723.3h7.0V795.4h-7.0ZM1946.50,712.8h7.0V784.0h-7.0ZM1972.00,828.7h7.0V834.4h-7.0ZM1980.50,821.0h7.0V828.7h-7.0ZM1989.00,790.2h7.0V821.0h-7.0ZM2014.50,711.0h7.0V810.7h-7.0ZM2048.50,777.4h7.0V793.0h-7.0ZM2065.50,797.3h7.0V800.2h-7.0ZM2074.00,786.0h7.0V797.3h-7.0ZM2082.50,746.0h7.0V786.0h-7.0ZM2091.00,596.6h7.0V746.0h-7.0ZM2099.50,563.0h7.0V596.6h-7.0ZM2125.00,540.2h7.0V608.0h-7.0ZM2142.00,614.3h7.0V618.0h-7.0ZM2159.00,610.8h7.0V642.2h-7.0ZM2167.50,586.6h7.0V610.8h-7.0ZM2184.50,618.8h7.0V622.2h-7.0ZM2218.50,712.0h7.0V755.5h-7.0ZM2235.50,750.4h7.0V759.0h-7.0ZM2252.50,788.8h7.0V814.4h-7.0ZM2303.50,801.6h7.0V877.0h-7.0ZM2354.50,976.7h7.0V988.0h-7.0ZM2363.00,969.6h7.0V976.0h-7.0Z" fill="#2cc39b"/>
<path d="M144.50,1185.5h7.0V1198.8h-7.0ZM153.00,1199.5h7.0V1204.0h-7.0ZM212.50,879.0h7.0V1007.5h-7.0ZM238.00,931.0h7.0V1010.0h-7.0ZM246.50,1024.0h7.0V1058.0h-7.0ZM255.00,1055.8h7.0V1066.7h-7.0ZM263.50,1066.5h7.0V1068.0h-7.0ZM272.00,1068.3h7.0V1093.3h-7.0ZM280.50,1093.3h7.0V1114.4h-7.0ZM289.00,1114.4h7.0V1159.7h-7.0ZM306.00,1144.0h7.0V1155.8h-7.0ZM314.50,1155.8h7.0V1164.0h-7.0ZM323.00,1164.0h7.0V1176.0h-7.0ZM382.50,1019.7h7.0V1051.0h-7.0ZM399.50,1047.0h7.0V1073.8h-7.0ZM408.00,1073.8h7.0V1091.0h-7.0ZM442.00,1044.8h7.0V1076.0h-7.0ZM459.00,1024.4h7.0V1028.6h-7.0ZM467.50,1031.0h7.0V1051.9h-7.0ZM476.00,1052.7h7.0V1066.7h-7.0ZM484.50,1067.5h7.0V1076.9h-7.0ZM493.00,1076.9h7.0V1106.6h-7.0ZM501.50,1106.6h7.0V1115.0h-7.0ZM518.50,1085.5h7.0V1117.5h-7.0ZM527.00,1117.3h7.0V1127.2h-7.0ZM544.00,1122.7h7.0V1135.3h-7.0ZM552.50,1136.2h7.0V1163.3h-7.0ZM561.00,1164.2h7.0V1167.8h-7.0ZM578.00,1105.5h7.0V1112.8h-7.0ZM586.50,1112.8h7.0V1145.3h-7.0ZM603.50,1128.5h7.0V1130.0h-7.0ZM637.50,1107.3h7.0V1130.8h-7.0ZM646.00,1130.8h7.0V1139.8h-7.0ZM663.00,1133.5h7.0V1156.0h-7.0ZM671.50,1156.0h7.0V1157.5h-7.0ZM680.00,1157.5h7.0V1213.0h-7.0ZM688.50,1212.4h7.0V1214.0h-7.0ZM697.00,1212.8h7.0V1214.4h-7.0ZM705.50,1213.9h7.0V1215.7h-7.0ZM714.00,1215.0h7.0V1216.6h-7.0ZM722.50,1215.7h7.0V1228.3h-7.0ZM731.00,1228.3h7.0V1233.7h-7.0ZM748.00,1232.1h7.0V1233.7h-7.0ZM756.50,1232.2h7.0V1233.8h-7.0ZM773.50,1224.0h7.0V1225.6h-7.0ZM799.00,1219.1h7.0V1220.7h-7.0ZM807.50,1220.2h7.0V1228.3h-7.0ZM816.00,1228.3h7.0V1232.8h-7.0ZM833.00,1229.3h7.0V1230.9h-7.0ZM867.00,1193.4h7.0V1195.0h-7.0ZM875.50,1195.0h7.0V1204.0h-7.0ZM892.50,1199.4h7.0V1204.0h-7.0ZM901.00,1204.0h7.0V1232.0h-7.0ZM935.00,1213.9h7.0V1218.4h-7.0ZM943.50,1218.4h7.0V1222.0h-7.0ZM952.00,1222.0h7.0V1225.0h-7.0ZM960.50,1225.0h7.0V1226.5h-7.0ZM969.00,1225.8h7.0V1227.4h-7.0ZM986.00,1220.3h7.0V1221.9h-7.0ZM1003.00,1212.3h7.0V1213.9h-7.0ZM1011.50,1212.4h7.0V1215.7h-7.0ZM1020.00,1215.0h7.0V1216.6h-7.0ZM1028.50,1215.3h7.0V1216.9h-7.0ZM1037.00,1216.6h7.0V1219.0h-7.0ZM1045.50,1218.3h7.0V1219.9h-7.0ZM1054.00,1218.4h7.0V1225.6h-7.0ZM1079.50,1182.3h7.0V1190.4h-7.0ZM1088.00,1189.7h7.0V1191.3h-7.0ZM1096.50,1190.8h7.0V1194.0h-7.0ZM1105.00,1194.0h7.0V1201.2h-7.0ZM1113.50,1200.5h7.0V1202.1h-7.0ZM1122.00,1200.3h7.0V1208.5h-7.0ZM1156.00,1187.0h7.0V1188.6h-7.0ZM1164.50,1187.7h7.0V1196.7h-7.0ZM1181.50,1192.2h7.0V1200.3h-7.0ZM1198.50,1197.2h7.0V1198.8h-7.0ZM1215.50,1117.3h7.0V1141.7h-7.0ZM1224.00,1141.7h7.0V1148.9h-7.0ZM1232.50,1148.9h7.0V1158.8h-7.0ZM1241.00,1158.8h7.0V1171.4h-7.0ZM1249.50,1171.4h7.0V1185.0h-7.0ZM1258.00,1184.6h7.0V1186.2h-7.0ZM1266.50,1185.9h7.0V1191.3h-7.0ZM1275.00,1191.3h7.0V1196.7h-7.0ZM1292.00,1187.7h7.0V1192.2h-7.0ZM1309.00,1184.6h7.0V1195.5h-7.0ZM1317.50,1194.2h7.0V1195.8h-7.0ZM1351.50,1148.5h7.0V1157.0h-7.0ZM1360.00,1157.5h7.0V1165.0h-7.0ZM1368.50,1164.3h7.0V1165.9h-7.0ZM1385.50,1159.3h7.0V1161.5h-7.0ZM1394.00,1161.5h7.0V1163.3h-7.0ZM1411.00,1160.6h7.0V1172.3h-7.0ZM1428.00,1168.7h7.0V1176.0h-7.0ZM1436.50,1176.9h7.0V1187.7h-7.0ZM1445.00,1188.2h7.0V1191.3h-7.0ZM1504.50,1148.0h7.0V1165.0h-7.0ZM1521.50,1167.0h7.0V1175.0h-7.0ZM1538.50,1164.8h7.0V1193.0h-7.0ZM1555.50,1185.9h7.0V1187.7h-7.0ZM1564.00,1187.0h7.0V1188.6h-7.0ZM1572.50,1187.0h7.0V1188.6h-7.0ZM1589.50,1185.2h7.0V1186.8h-7.0ZM1598.00,1185.7h7.0V1187.3h-7.0ZM1606.50,1186.8h7.0V1194.0h-7.0ZM1615.00,1193.3h7.0V1194.9h-7.0ZM1623.50,1194.0h7.0V1199.4h-7.0ZM1632.00,1198.7h7.0V1200.3h-7.0ZM1640.50,1200.3h7.0V1206.6h-7.0ZM1657.50,1163.0h7.0V1164.6h-7.0ZM1666.00,1163.0h7.0V1164.6h-7.0ZM1674.50,1163.3h7.0V1167.8h-7.0ZM1683.00,1168.7h7.0V1176.0h-7.0ZM1700.00,1168.7h7.0V1176.0h-7.0ZM1708.50,1176.0h7.0V1178.7h-7.0ZM1717.00,1178.7h7.0V1184.0h-7.0ZM1734.00,1171.3h7.0V1172.9h-7.0ZM1742.50,1172.7h7.0V1182.3h-7.0ZM1751.00,1183.2h7.0V1186.8h-7.0ZM1768.00,1181.4h7.0V1185.9h-7.0ZM1776.50,1185.7h7.0V1187.3h-7.0ZM1836.00,747.0h7.0V769.7h-7.0ZM1844.50,769.7h7.0V771.7h-7.0ZM1887.00,566.7h7.0V589.5h-7.0ZM1895.50,590.3h7.0V751.0h-7.0ZM1921.00,667.2h7.0V795.4h-7.0ZM1938.00,723.3h7.0V784.0h-7.0ZM1955.00,712.8h7.0V758.3h-7.0ZM1963.50,759.0h7.0V834.4h-7.0ZM1997.50,790.2h7.0V796.0h-7.0ZM2006.00,796.0h7.0V810.7h-7.0ZM2023.00,711.0h7.0V747.0h-7.0ZM2031.50,747.5h7.0V776.0h-7.0ZM2040.00,776.6h7.0V793.0h-7.0ZM2057.00,777.4h7.0V800.2h-7.0ZM2108.00,563.0h7.0V582.4h-7.0ZM2116.50,583.8h7.0V608.0h-7.0ZM2133.50,540.2h7.0V618.0h-7.0ZM2150.50,614.3h7.0V642.2h-7.0ZM2176.00,586.6h7.0V622.2h-7.0ZM2193.00,618.8h7.0V633.6h-7.0ZM2201.50,634.2h7.0V743.2h-7.0ZM2210.00,744.1h7.0V755.5h-7.0ZM2227.00,712.0h7.0V759.0h-7.0ZM2244.00,750.4h7.0V814.4h-7.0ZM2261.00,788.8h7.0V793.0h-7.0ZM2269.50,794.0h7.0V830.0h-7.0ZM2278.00,830.7h7.0V872.7h-7.0ZM2286.50,872.0h7.0V873.6h-7.0ZM2295.00,872.7h7.0V878.4h-7.0ZM2312.00,801.6h7.0V807.3h-7.0ZM2320.50,808.0h7.0V852.8h-7.0ZM2329.00,854.2h7.0V861.4h-7.0ZM2337.50,862.2h7.0V955.3h-7.0ZM2346.00,955.3h7.0V988.0h-7.0Z" fill="#f8645f"/>
<defs><linearGradient id="ag" gradientUnits="userSpaceOnUse" x1="0" x2="0" y1="794.5" y2="1314.5"><stop offset="0" stop-color="#947ef1" stop-opacity="0.035"/><stop offset="0.5" stop-color="#947ef1" stop-opacity="0.21"/><stop offset="1" stop-color="#947ef1" stop-opacity="0.035"/></linearGradient></defs>
<path d="M148.0,1045.2 L156.5,1045.6 L165.0,1053.4 L173.5,1039.4 L182.0,1029.0 L190.5,1045.6 L199.0,953.0 L207.5,883.0 L216.0,973.0 L224.5,1010.0 L233.0,835.6 L241.5,935.6 L250.0,1021.6 L258.5,1092.5 L267.0,1063.6 L275.5,1034.0 L284.0,1062.8 L292.5,1075.3 L301.0,1066.7 L309.5,1081.6 L318.0,1058.9 L326.5,1063.6 L335.0,1056.6 L343.5,1027.8 L352.0,1038.6 L360.5,1016.0 L369.0,1020.0 L377.5,977.8 L386.0,1012.0 L394.5,1062.0 L403.0,1059.7 L411.5,1057.3 L420.0,1018.4 L428.5,1040.0 L437.0,1006.7 L445.5,1039.0 L454.0,1013.0 L462.5,1019.2 L471.0,979.0 L479.5,1043.0 L488.0,1040.0 L496.5,1067.5 L505.0,1062.8 L513.5,1045.6 L522.0,988.8 L530.5,1059.5 L539.0,1070.3 L547.5,1058.6 L556.0,1073.0 L564.5,1081.2 L573.0,1041.5 L581.5,1050.5 L590.0,1059.5 L598.5,1046.0 L607.0,1057.7 L615.5,1052.3 L624.0,1048.7 L632.5,1047.4 L641.0,1042.4 L649.5,1060.4 L658.0,1056.8 L666.5,1053.5 L675.0,1074.9 L683.5,1091.1 L692.0,1091.5 L700.5,1074.5 L709.0,1086.6 L717.5,1071.2 L726.0,1083.0 L734.5,1065.5 L743.0,1067.6 L751.5,1084.8 L760.0,1067.6 L768.5,1071.2 L777.0,1057.7 L785.5,1107.3 L794.0,1054.0 L802.5,1073.4 L811.0,1059.5 L819.5,1052.8 L828.0,1061.3 L836.5,1056.8 L845.0,1053.5 L853.5,1047.8 L862.0,1042.7 L870.5,1045.0 L879.0,1056.8 L887.5,1057.2 L896.0,1056.8 L904.5,1060.8 L913.0,1167.8 L921.5,1059.5 L930.0,1054.6 L938.5,1240.0 L947.0,1055.0 L955.5,1062.2 L964.0,1071.2 L972.5,1059.5 L981.0,1056.8 L989.5,1051.4 L998.0,1050.1 L1006.5,1056.4 L1015.0,1055.9 L1023.5,1055.9 L1032.0,1055.4 L1040.5,1059.5 L1049.0,1058.6 L1057.5,1057.7 L1066.0,1055.9 L1074.5,1043.3 L1083.0,1033.3 L1091.5,1058.6 L1100.0,1054.0 L1108.5,1054.6 L1117.0,1053.5 L1125.5,1056.4 L1134.0,1055.9 L1142.5,1054.0 L1151.0,1052.3 L1159.5,1027.4 L1168.0,1052.3 L1176.5,1054.0 L1185.0,1055.9 L1193.5,1049.2 L1202.0,1055.0 L1210.5,998.0 L1219.0,1046.9 L1227.5,1014.4 L1236.0,1054.0 L1244.5,1054.0 L1253.0,1070.3 L1261.5,1062.2 L1270.0,1070.3 L1278.5,1056.8 L1287.0,1054.6 L1295.5,1055.9 L1304.0,1046.9 L1312.5,1057.7 L1321.0,1055.9 L1329.5,1051.4 L1338.0,1033.3 L1346.5,1043.3 L1355.0,1046.0 L1363.5,1049.6 L1372.0,1052.3 L1380.5,1037.8 L1389.0,1051.4 L1397.5,1054.0 L1406.0,1045.0 L1414.5,1048.7 L1423.0,1055.9 L1431.5,1059.0 L1440.0,1061.7 L1448.5,1059.5 L1457.0,1063.7 L1465.5,1052.3 L1474.0,1051.7 L1482.5,1050.5 L1491.0,1017.0 L1499.5,1042.4 L1508.0,1056.8 L1516.5,1053.2 L1525.0,1041.5 L1533.5,1054.0 L1542.0,1068.5 L1550.5,1053.2 L1559.0,1067.3 L1567.5,1053.2 L1576.0,1057.2 L1584.5,1055.4 L1593.0,1052.8 L1601.5,1060.8 L1610.0,1057.7 L1618.5,1055.4 L1627.0,1057.7 L1635.5,1064.0 L1644.0,1061.3 L1652.5,1043.3 L1661.0,1048.1 L1669.5,1048.7 L1678.0,1042.4 L1686.5,1048.7 L1695.0,1052.3 L1703.5,1053.2 L1712.0,1020.7 L1720.5,1049.2 L1729.0,1052.8 L1737.5,1053.2 L1746.0,1037.8 L1754.5,1059.0 L1763.0,1055.4 L1771.5,1058.6 L1780.0,1055.0 L1788.5,1040.7 L1797.0,1035.0 L1805.5,917.0 L1814.0,877.0 L1822.5,451.4 L1831.0,697.0 L1839.5,838.0 L1848.0,925.4 L1856.5,914.6 L1865.0,940.0 L1873.5,930.0 L1882.0,861.4 L1890.5,975.0 L1899.0,783.0 L1907.5,993.8 L1916.0,1010.8 L1924.5,999.5 L1933.0,909.8 L1941.5,988.0 L1950.0,1033.6 L1958.5,1045.0 L1967.0,1120.5 L1975.5,1045.0 L1984.0,1010.8 L1992.5,999.5 L2001.0,988.0 L2009.5,982.4 L2018.0,993.8 L2026.5,1002.3 L2035.0,1036.5 L2043.5,1010.8 L2052.0,976.7 L2060.5,993.8 L2069.0,999.5 L2077.5,888.4 L2086.0,931.0 L2094.5,890.0 L2103.0,598.0 L2111.5,826.0 L2120.0,922.6 L2128.5,915.5 L2137.0,945.0 L2145.5,993.8 L2154.0,962.4 L2162.5,1022.0 L2171.0,1010.8 L2179.5,993.8 L2188.0,976.7 L2196.5,896.4 L2205.0,1055.0 L2213.5,995.0 L2222.0,953.9 L2230.5,931.7 L2239.0,942.5 L2247.5,1036.5 L2256.0,1082.0 L2264.5,1032.2 L2273.0,1083.5 L2281.5,1033.6 L2290.0,1060.7 L2298.5,1055.0 L2307.0,865.0 L2315.5,1050.7 L2324.0,1047.9 L2332.5,1053.5 L2341.0,1096.0 L2349.5,1146.0 L2358.0,1069.2 L2366.5,1056.4 L2366.5,1054.5 L148.0,1054.5 Z" fill="url(#ag)"/>
<path d="M148.0,1045.2 L156.5,1045.6 L165.0,1053.4 L173.5,1039.4 L182.0,1029.0 L190.5,1045.6 L199.0,953.0 L207.5,883.0 L216.0,973.0 L224.5,1010.0 L233.0,835.6 L241.5,935.6 L250.0,1021.6 L258.5,1092.5 L267.0,1063.6 L275.5,1034.0 L284.0,1062.8 L292.5,1075.3 L301.0,1066.7 L309.5,1081.6 L318.0,1058.9 L326.5,1063.6 L335.0,1056.6 L343.5,1027.8 L352.0,1038.6 L360.5,1016.0 L369.0,1020.0 L377.5,977.8 L386.0,1012.0 L394.5,1062.0 L403.0,1059.7 L411.5,1057.3 L420.0,1018.4 L428.5,1040.0 L437.0,1006.7 L445.5,1039.0 L454.0,1013.0 L462.5,1019.2 L471.0,979.0 L479.5,1043.0 L488.0,1040.0 L496.5,1067.5 L505.0,1062.8 L513.5,1045.6 L522.0,988.8 L530.5,1059.5 L539.0,1070.3 L547.5,1058.6 L556.0,1073.0 L564.5,1081.2 L573.0,1041.5 L581.5,1050.5 L590.0,1059.5 L598.5,1046.0 L607.0,1057.7 L615.5,1052.3 L624.0,1048.7 L632.5,1047.4 L641.0,1042.4 L649.5,1060.4 L658.0,1056.8 L666.5,1053.5 L675.0,1074.9 L683.5,1091.1 L692.0,1091.5 L700.5,1074.5 L709.0,1086.6 L717.5,1071.2 L726.0,1083.0 L734.5,1065.5 L743.0,1067.6 L751.5,1084.8 L760.0,1067.6 L768.5,1071.2 L777.0,1057.7 L785.5,1107.3 L794.0,1054.0 L802.5,1073.4 L811.0,1059.5 L819.5,1052.8 L828.0,1061.3 L836.5,1056.8 L845.0,1053.5 L853.5,1047.8 L862.0,1042.7 L870.5,1045.0 L879.0,1056.8 L887.5,1057.2 L896.0,1056.8 L904.5,1060.8 L913.0,1167.8 L921.5,1059.5 L930.0,1054.6 L938.5,1240.0 L947.0,1055.0 L955.5,1062.2 L964.0,1071.2 L972.5,1059.5 L981.0,1056.8 L989.5,1051.4 L998.0,1050.1 L1006.5,1056.4 L1015.0,1055.9 L1023.5,1055.9 L1032.0,1055.4 L1040.5,1059.5 L1049.0,1058.6 L1057.5,1057.7 L1066.0,1055.9 L1074.5,1043.3 L1083.0,1033.3 L1091.5,1058.6 L1100.0,1054.0 L1108.5,1054.6 L1117.0,1053.5 L1125.5,1056.4 L1134.0,1055.9 L1142.5,1054.0 L1151.0,1052.3 L1159.5,1027.4 L1168.0,1052.3 L1176.5,1054.0 L1185.0,1055.9 L1193.5,1049.2 L1202.0,1055.0 L1210.5,998.0 L1219.0,1046.9 L1227.5,1014.4 L1236.0,1054.0 L1244.5,1054.0 L1253.0,1070.3 L1261.5,1062.2 L1270.0,1070.3 L1278.5,1056.8 L1287.0,1054.6 L1295.5,1055.9 L1304.0,1046.9 L1312.5,1057.7 L1321.0,1055.9 L1329.5,1051.4 L1338.0,1033.3 L1346.5,1043.3 L1355.0,1046.0 L1363.5,1049.6 L1372.0,1052.3 L1380.5,1037.8 L1389.0,1051.4 L1397.5,1054.0 L1406.0,1045.0 L1414.5,1048.7 L1423.0,1055.9 L1431.5,1059.0 L1440.0,1061.7 L1448.5,1059.5 L1457.0,1063.7 L1465.5,1052.3 L1474.0,1051.7 L1482.5,1050.5 L1491.0,1017.0 L1499.5,1042.4 L1508.0,1056.8 L1516.5,1053.2 L1525.0,1041.5 L1533.5,1054.0 L1542.0,1068.5 L1550.5,1053.2 L1559.0,1067.3 L1567.5,1053.2 L1576.0,1057.2 L1584.5,1055.4 L1593.0,1052.8 L1601.5,1060.8 L1610.0,1057.7 L1618.5,1055.4 L1627.0,1057.7 L1635.5,1064.0 L1644.0,1061.3 L1652.5,1043.3 L1661.0,1048.1 L1669.5,1048.7 L1678.0,1042.4 L1686.5,1048.7 L1695.0,1052.3 L1703.5,1053.2 L1712.0,1020.7 L1720.5,1049.2 L1729.0,1052.8 L1737.5,1053.2 L1746.0,1037.8 L1754.5,1059.0 L1763.0,1055.4 L1771.5,1058.6 L1780.0,1055.0 L1788.5,1040.7 L1797.0,1035.0 L1805.5,917.0 L1814.0,877.0 L1822.5,451.4 L1831.0,697.0 L1839.5,838.0 L1848.0,925.4 L1856.5,914.6 L1865.0,940.0 L1873.5,930.0 L1882.0,861.4 L1890.5,975.0 L1899.0,783.0 L1907.5,993.8 L1916.0,1010.8 L1924.5,999.5 L1933.0,909.8 L1941.5,988.0 L1950.0,1033.6 L1958.5,1045.0 L1967.0,1120.5 L1975.5,1045.0 L1984.0,1010.8 L1992.5,999.5 L2001.0,988.0 L2009.5,982.4 L2018.0,993.8 L2026.5,1002.3 L2035.0,1036.5 L2043.5,1010.8 L2052.0,976.7 L2060.5,993.8 L2069.0,999.5 L2077.5,888.4 L2086.0,931.0 L2094.5,890.0 L2103.0,598.0 L2111.5,826.0 L2120.0,922.6 L2128.5,915.5 L2137.0,945.0 L2145.5,993.8 L2154.0,962.4 L2162.5,1022.0 L2171.0,1010.8 L2179.5,993.8 L2188.0,976.7 L2196.5,896.4 L2205.0,1055.0 L2213.5,995.0 L2222.0,953.9 L2230.5,931.7 L2239.0,942.5 L2247.5,1036.5 L2256.0,1082.0 L2264.5,1032.2 L2273.0,1083.5 L2281.5,1033.6 L2290.0,1060.7 L2298.5,1055.0 L2307.0,865.0 L2315.5,1050.7 L2324.0,1047.9 L2332.5,1053.5 L2341.0,1096.0 L2349.5,1146.0 L2358.0,1069.2 L2366.5,1056.4" fill="none" stroke="#947ef1" stroke-width="2.25" stroke-linejoin="miter" stroke-miterlimit="8"/>
</g>
<line x1="2407" x2="2407" y1="444" y2="1242" stroke="#9698b0" stroke-width="1.6"/>
<text x="2417" y="449.9" font-family='"Liberation Sans", sans-serif' font-size="15.5" fill="#787c96" textLength="39" lengthAdjust="spacingAndGlyphs">3.686</text>
<text x="2417" y="549.4" font-family='"Liberation Sans", sans-serif' font-size="15.5" fill="#787c96" textLength="39" lengthAdjust="spacingAndGlyphs">3.261</text>
<text x="2417" y="648.9" font-family='"Liberation Sans", sans-serif' font-size="15.5" fill="#787c96" textLength="39" lengthAdjust="spacingAndGlyphs">2.837</text>
<text x="2417" y="748.4" font-family='"Liberation Sans", sans-serif' font-size="15.5" fill="#787c96" textLength="39" lengthAdjust="spacingAndGlyphs">2.412</text>
<text x="2417" y="847.9" font-family='"Liberation Sans", sans-serif' font-size="15.5" fill="#787c96" textLength="39" lengthAdjust="spacingAndGlyphs">1.987</text>
<text x="2417" y="947.4" font-family='"Liberation Sans", sans-serif' font-size="15.5" fill="#787c96" textLength="39" lengthAdjust="spacingAndGlyphs">1.562</text>
<text x="2417" y="1046.9" font-family='"Liberation Sans", sans-serif' font-size="15.5" fill="#787c96" textLength="39" lengthAdjust="spacingAndGlyphs">1.137</text>
<text x="2417" y="1146.4" font-family='"Liberation Sans", sans-serif' font-size="15.5" fill="#787c96" textLength="39" lengthAdjust="spacingAndGlyphs">0.713</text>
<text x="2417" y="1245.9" font-family='"Liberation Sans", sans-serif' font-size="15.5" fill="#787c96" textLength="39" lengthAdjust="spacingAndGlyphs">0.288</text>
<text x="192" y="1263.8" text-anchor="middle" font-family='"Liberation Sans", sans-serif' font-size="15.5" fill="#787c96">17 Feb 21</text>
<text x="335" y="1263.8" text-anchor="middle" font-family='"Liberation Sans", sans-serif' font-size="15.5" fill="#787c96">21 Jul 21</text>
<text x="522" y="1263.8" text-anchor="middle" font-family='"Liberation Sans", sans-serif' font-size="15.5" fill="#787c96">22 Dec 21</text>
<text x="709" y="1263.8" text-anchor="middle" font-family='"Liberation Sans", sans-serif' font-size="15.5" fill="#787c96">25 May 22</text>
<text x="896" y="1263.8" text-anchor="middle" font-family='"Liberation Sans", sans-serif' font-size="15.5" fill="#787c96">26 Oct 22</text>
<text x="1083" y="1263.8" text-anchor="middle" font-family='"Liberation Sans", sans-serif' font-size="15.5" fill="#787c96">29 Mar 23</text>
<text x="1270" y="1263.8" text-anchor="middle" font-family='"Liberation Sans", sans-serif' font-size="15.5" fill="#787c96">30 Aug 23</text>
<text x="1457" y="1263.8" text-anchor="middle" font-family='"Liberation Sans", sans-serif' font-size="15.5" fill="#787c96">31 Jan 24</text>
<text x="1644" y="1263.8" text-anchor="middle" font-family='"Liberation Sans", sans-serif' font-size="15.5" fill="#787c96">03 Jul 24</text>
<text x="1831" y="1263.8" text-anchor="middle" font-family='"Liberation Sans", sans-serif' font-size="15.5" fill="#787c96">04 Dec 24</text>
<text x="2018" y="1263.8" text-anchor="middle" font-family='"Liberation Sans", sans-serif' font-size="15.5" fill="#787c96">07 May 25</text>
<text x="2205" y="1263.8" text-anchor="middle" font-family='"Liberation Sans", sans-serif' font-size="15.5" fill="#787c96">08 Oct 25</text>
<text x="2399" y="1263.8" text-anchor="middle" font-family='"Liberation Sans", sans-serif' font-size="15.5" fill="#787c96">18 Feb 26</text>
<rect x="2411.5" y="958.3" width="50" height="20.7" fill="#8b8c8f"/>
<text x="2436" y="974" text-anchor="middle" font-family='"Liberation Sans", sans-serif' font-size="15.5" fill="#f3f3f5" textLength="39" lengthAdjust="spacingAndGlyphs">1.452</text>
<rect x="148.5" y="1290.2" width="2337" height="62.3" rx="4" fill="#1a1c2f" stroke="#2a2e45" stroke-width="1.2"/>
<path d="M1600,1290.8 h881.5 a4,4 0 0 1 4,4 v53.2 a4,4 0 0 1 -4,4 h-881.5 z" fill="#24283d"/>
<path d="M152.0,1340.8 L155.0,1340.7 L158.0,1341.2 L161.1,1340.6 L164.1,1341.0 L167.1,1340.9 L170.1,1340.6 L173.1,1341.0 L176.1,1340.5 L179.2,1340.9 L182.2,1340.6 L185.2,1340.6 L188.2,1340.9 L191.2,1341.3 L194.2,1340.6 L197.2,1340.7 L200.3,1341.1 L203.3,1341.4 L206.3,1341.1 L209.3,1340.9 L212.3,1341.5 L215.3,1340.5 L218.4,1341.4 L221.4,1340.8 L224.4,1340.6 L227.4,1340.6 L230.4,1340.8 L233.4,1341.3 L236.5,1340.7 L239.5,1341.1 L242.5,1341.1 L245.5,1340.9 L248.5,1341.0 L251.6,1340.6 L254.6,1340.6 L257.6,1340.7 L260.6,1341.2 L263.6,1340.9 L266.6,1340.8 L269.6,1341.1 L272.7,1341.0 L275.7,1340.8 L278.7,1341.3 L281.7,1341.2 L284.7,1340.7 L287.8,1341.1 L290.8,1341.0 L293.8,1341.4 L296.8,1341.2 L299.8,1340.8 L302.8,1341.5 L305.9,1340.6 L308.9,1340.9 L311.9,1341.3 L314.9,1340.7 L317.9,1341.0 L320.9,1340.5 L323.9,1341.2 L327.0,1341.3 L330.0,1341.1 L333.0,1341.4 L336.0,1340.8 L339.0,1341.2 L342.1,1341.1 L345.1,1341.1 L348.1,1341.0 L351.1,1341.3 L354.1,1341.4 L357.1,1341.0 L360.1,1341.2 L363.2,1340.6 L366.2,1341.2 L369.2,1341.1 L372.2,1341.5 L375.2,1341.3 L378.2,1340.8 L381.3,1340.9 L384.3,1341.2 L387.3,1340.5 L390.3,1341.0 L393.3,1340.7 L396.4,1340.6 L399.4,1340.6 L402.4,1341.3 L405.4,1340.6 L408.4,1340.7 L411.4,1340.9 L414.4,1341.4 L417.5,1340.6 L420.5,1340.9 L423.5,1341.0 L426.5,1341.4 L429.5,1341.3 L432.6,1341.4 L435.6,1340.8 L438.6,1340.9 L441.6,1340.9 L444.6,1341.4 L447.6,1341.5 L450.6,1340.7 L453.7,1340.7 L456.7,1340.7 L459.7,1340.7 L462.7,1341.0 L465.7,1341.1 L468.8,1340.8 L471.8,1340.5 L474.8,1340.9 L477.8,1340.9 L480.8,1341.1 L483.8,1341.5 L486.9,1341.2 L489.9,1341.0 L492.9,1341.1 L495.9,1341.2 L498.9,1340.6 L501.9,1341.4 L504.9,1341.3 L508.0,1341.4 L511.0,1341.3 L514.0,1340.9 L517.0,1340.9 L520.0,1340.6 L523.0,1341.1 L526.1,1340.6 L529.1,1340.6 L532.1,1340.7 L535.1,1340.7 L538.1,1340.8 L541.1,1340.6 L544.2,1340.5 L547.2,1340.7 L550.2,1340.6 L553.2,1340.9 L556.2,1340.5 L559.2,1341.4 L562.3,1341.1 L565.3,1340.6 L568.3,1340.8 L571.3,1340.8 L574.3,1340.9 L577.4,1340.6 L580.4,1341.3 L583.4,1341.5 L586.4,1341.0 L589.4,1341.0 L592.4,1340.6 L595.5,1340.6 L598.5,1340.8 L601.5,1340.8 L604.5,1341.3 L607.5,1340.7 L610.5,1340.5 L613.5,1341.5 L616.6,1341.0 L619.6,1340.6 L622.6,1341.0 L625.6,1340.5 L628.6,1341.0 L631.6,1341.5 L634.7,1341.4 L637.7,1341.2 L640.7,1340.8 L643.7,1340.9 L646.7,1340.7 L649.8,1341.3 L652.8,1341.0 L655.8,1341.3 L658.8,1340.8 L661.8,1340.7 L664.8,1341.3 L667.9,1341.5 L670.9,1341.4 L673.9,1341.3 L676.9,1341.3 L679.9,1341.2 L682.9,1340.7 L686.0,1341.0 L689.0,1340.9 L692.0,1340.5 L695.0,1340.5 L698.0,1340.8 L701.0,1340.8 L704.0,1341.2 L707.1,1341.5 L710.1,1340.9 L713.1,1341.4 L716.1,1341.5 L719.1,1341.5 L722.1,1340.9 L725.2,1340.7 L728.2,1340.7 L731.2,1340.7 L734.2,1340.7 L737.2,1341.1 L740.2,1341.4 L743.3,1341.3 L746.3,1341.0 L749.3,1341.2 L752.3,1341.3 L755.3,1340.6 L758.4,1341.2 L761.4,1341.4 L764.4,1341.3 L767.4,1341.3 L770.4,1341.0 L773.4,1340.7 L776.5,1341.3 L779.5,1340.8 L782.5,1341.3 L785.5,1341.5 L788.5,1340.9 L791.5,1340.9 L794.5,1341.4 L797.6,1341.2 L800.6,1340.7 L803.6,1340.6 L806.6,1340.7 L809.6,1341.4 L812.6,1341.3 L815.7,1340.6 L818.7,1341.3 L821.7,1341.5 L824.7,1341.2 L827.7,1340.9 L830.8,1341.0 L833.8,1340.6 L836.8,1340.5 L839.8,1341.5 L842.8,1341.1 L845.8,1341.0 L848.9,1341.4 L851.9,1340.9 L854.9,1341.4 L857.9,1341.3 L860.9,1340.7 L863.9,1340.8 L867.0,1340.8 L870.0,1340.7 L873.0,1341.1 L876.0,1340.8 L879.0,1340.9 L882.0,1340.6 L885.0,1341.4 L888.1,1340.9 L891.1,1341.0 L894.1,1341.1 L897.1,1341.4 L900.1,1340.9 L903.1,1341.4 L906.2,1341.0 L909.2,1341.0 L912.2,1341.0 L915.2,1340.5 L918.2,1340.9 L921.2,1340.7 L924.3,1340.5 L927.3,1339.0 L930.3,1340.7 L933.3,1341.0 L936.3,1341.2 L939.4,1341.1 L942.4,1340.8 L945.4,1341.0 L948.4,1341.1 L951.4,1341.3 L954.4,1340.6 L957.5,1341.1 L960.5,1340.7 L963.5,1340.8 L966.5,1341.3 L969.5,1341.0 L972.5,1341.1 L975.5,1341.3 L978.6,1338.0 L981.6,1340.9 L984.6,1341.1 L987.6,1341.0 L990.6,1341.0 L993.6,1341.2 L996.7,1341.0 L999.7,1341.0 L1002.7,1341.0 L1005.7,1341.4 L1008.7,1341.2 L1011.8,1341.4 L1014.8,1341.4 L1017.8,1340.8 L1020.8,1341.1 L1023.8,1341.4 L1026.8,1341.3 L1029.8,1340.6 L1032.9,1290.0 L1035.9,1322.0 L1038.9,1335.0 L1041.9,1340.7 L1044.9,1305.8 L1048.0,1341.2 L1051.0,1341.3 L1054.0,1341.4 L1057.0,1350.0 L1060.0,1341.2 L1063.0,1341.2 L1066.0,1350.0 L1069.1,1327.0 L1072.1,1341.5 L1075.1,1340.7 L1078.1,1341.5 L1081.1,1340.9 L1084.2,1344.0 L1087.2,1341.5 L1090.2,1341.3 L1093.2,1340.7 L1096.2,1340.9 L1099.2,1341.0 L1102.2,1340.8 L1105.3,1340.7 L1108.3,1340.8 L1111.3,1341.2 L1114.3,1340.5 L1117.3,1341.1 L1120.3,1340.9 L1123.4,1340.5 L1126.4,1340.8 L1129.4,1341.1 L1132.4,1341.0 L1135.4,1340.6 L1138.5,1341.5 L1141.5,1341.3 L1144.5,1341.5 L1147.5,1340.6 L1150.5,1340.8 L1153.5,1340.5 L1156.5,1328.0 L1159.6,1340.8 L1162.6,1340.6 L1165.6,1340.9 L1168.6,1341.4 L1171.6,1341.3 L1174.7,1340.8 L1177.7,1340.6 L1180.7,1341.4 L1183.7,1341.1 L1186.7,1341.2 L1189.7,1340.6 L1192.8,1340.6 L1195.8,1341.2 L1198.8,1340.9 L1201.8,1340.6 L1204.8,1341.4 L1207.8,1341.1 L1210.8,1341.3 L1213.9,1340.6 L1216.9,1341.4 L1219.9,1340.6 L1222.9,1341.4 L1225.9,1341.0 L1229.0,1340.8 L1232.0,1341.1 L1235.0,1341.4 L1238.0,1340.8 L1241.0,1340.6 L1244.0,1341.0 L1247.0,1340.7 L1250.1,1340.6 L1253.1,1340.7 L1256.1,1340.6 L1259.1,1340.7 L1262.1,1340.8 L1265.2,1340.8 L1268.2,1341.3 L1271.2,1340.8 L1274.2,1341.0 L1277.2,1340.7 L1280.2,1340.8 L1283.2,1340.5 L1286.3,1340.8 L1289.3,1340.5 L1292.3,1341.2 L1295.3,1341.1 L1298.3,1340.7 L1301.3,1341.0 L1304.4,1341.4 L1307.4,1340.6 L1310.4,1341.3 L1313.4,1340.9 L1316.4,1348.0 L1319.5,1341.3 L1322.5,1340.9 L1325.5,1341.0 L1328.5,1341.2 L1331.5,1341.5 L1334.5,1340.8 L1337.5,1341.3 L1340.6,1341.2 L1343.6,1341.1 L1346.6,1340.9 L1349.6,1340.8 L1352.6,1340.6 L1355.7,1340.6 L1358.7,1340.6 L1361.7,1341.2 L1364.7,1340.8 L1367.7,1340.7 L1370.7,1340.6 L1373.8,1341.3 L1376.8,1341.4 L1379.8,1341.2 L1382.8,1340.8 L1385.8,1340.7 L1388.8,1340.8 L1391.8,1341.0 L1394.9,1340.7 L1397.9,1340.9 L1400.9,1340.8 L1403.9,1341.5 L1406.9,1341.5 L1410.0,1341.0 L1413.0,1340.7 L1416.0,1341.5 L1419.0,1340.8 L1422.0,1340.9 L1425.0,1340.5 L1428.0,1340.9 L1431.1,1341.0 L1434.1,1341.0 L1437.1,1340.7 L1440.1,1341.0 L1443.1,1340.5 L1446.2,1340.8 L1449.2,1340.6 L1452.2,1340.9 L1455.2,1340.5 L1458.2,1340.5 L1461.2,1340.8 L1464.2,1340.7 L1467.3,1341.1 L1470.3,1341.0 L1473.3,1341.3 L1476.3,1341.2 L1479.3,1341.2 L1482.3,1341.4 L1485.4,1340.9 L1488.4,1340.8 L1491.4,1341.5 L1494.4,1340.6 L1497.4,1341.2 L1500.5,1341.1 L1503.5,1340.5 L1506.5,1341.3 L1509.5,1341.4 L1512.5,1341.1 L1515.5,1341.2 L1518.5,1341.3 L1521.6,1340.6 L1524.6,1341.0 L1527.6,1341.0 L1530.6,1341.3 L1533.6,1341.3 L1536.7,1341.3 L1539.7,1341.1 L1542.7,1341.4 L1545.7,1341.2 L1548.7,1341.2 L1551.7,1340.7 L1554.8,1336.0 L1557.8,1340.6 L1560.8,1336.0 L1563.8,1340.6 L1566.8,1341.3 L1569.8,1341.1 L1572.8,1341.1 L1575.9,1341.1 L1578.9,1341.2 L1581.9,1341.0 L1584.9,1340.5 L1587.9,1337.0 L1591.0,1341.2 L1594.0,1341.0 L1597.0,1341.0 L1600.0,1341.2" fill="none" stroke="#353a55" stroke-width="1.6"/>
<path d="M1600.0,1340.3 L1602.9,1341.4 L1605.9,1340.6 L1608.8,1340.3 L1611.8,1340.6 L1614.7,1341.4 L1617.6,1340.5 L1620.6,1341.4 L1623.5,1335.0 L1626.5,1341.0 L1629.4,1340.8 L1632.3,1330.6 L1635.3,1341.3 L1638.2,1341.4 L1641.2,1341.2 L1644.1,1344.0 L1647.0,1340.3 L1650.0,1340.4 L1652.9,1340.6 L1655.9,1341.4 L1658.8,1340.7 L1661.7,1341.1 L1664.7,1340.2 L1667.6,1340.3 L1670.6,1340.6 L1673.5,1341.3 L1676.4,1341.3 L1679.4,1341.3 L1682.3,1340.7 L1685.3,1341.0 L1688.2,1340.9 L1691.1,1337.0 L1694.1,1340.4 L1697.0,1341.6 L1700.0,1340.5 L1702.9,1341.8 L1705.8,1341.7 L1708.8,1340.2 L1711.7,1340.9 L1714.7,1341.5 L1717.6,1341.7 L1720.5,1340.9 L1723.5,1340.6 L1726.4,1340.5 L1729.4,1341.7 L1732.3,1340.5 L1735.2,1341.1 L1738.2,1340.4 L1741.1,1341.0 L1744.1,1337.0 L1747.0,1340.4 L1749.9,1341.5 L1752.9,1341.0 L1755.8,1341.6 L1758.8,1341.3 L1761.7,1340.6 L1764.6,1341.6 L1767.6,1341.0 L1770.5,1340.2 L1773.5,1340.2 L1776.4,1341.0 L1779.3,1340.9 L1782.3,1340.7 L1785.2,1340.4 L1788.2,1340.8 L1791.1,1340.7 L1794.0,1341.5 L1797.0,1340.2 L1799.9,1341.4 L1802.9,1341.5 L1805.8,1340.4 L1808.7,1341.7 L1811.7,1341.3 L1814.6,1341.6 L1817.6,1340.7 L1820.5,1340.8 L1823.4,1340.8 L1826.4,1341.8 L1829.3,1341.1 L1832.3,1340.8 L1835.2,1340.9 L1838.1,1340.6 L1841.1,1340.3 L1844.0,1340.4 L1847.0,1341.5 L1849.9,1340.7 L1852.8,1344.0 L1855.8,1340.6 L1858.7,1340.6 L1861.7,1341.0 L1864.6,1340.5 L1867.5,1340.8 L1870.5,1341.7 L1873.4,1341.6 L1876.4,1341.5 L1879.3,1341.2 L1882.2,1341.7 L1885.2,1341.7 L1888.1,1341.1 L1891.1,1341.4 L1894.0,1340.3 L1896.9,1341.4 L1899.9,1340.9 L1902.8,1341.4 L1905.8,1346.6 L1908.7,1340.7 L1911.6,1340.3 L1914.6,1351.0 L1917.5,1340.4 L1920.5,1341.0 L1923.4,1340.7 L1926.3,1340.7 L1929.3,1341.4 L1932.2,1341.8 L1935.2,1340.6 L1938.1,1341.2 L1941.0,1340.7 L1944.0,1341.1 L1946.9,1340.8 L1949.9,1340.5 L1952.8,1340.5 L1955.7,1340.5 L1958.7,1341.6 L1961.6,1341.0 L1964.6,1340.6 L1967.5,1341.7 L1970.4,1341.8 L1973.4,1340.9 L1976.3,1340.4 L1979.3,1340.5 L1982.2,1340.3 L1985.1,1340.7 L1988.1,1340.3 L1991.0,1340.6 L1994.0,1340.6 L1996.9,1341.1 L1999.8,1341.6 L2002.8,1341.4 L2005.7,1340.9 L2008.7,1340.9 L2011.6,1341.0 L2014.5,1340.8 L2017.5,1340.7 L2020.4,1340.3 L2023.4,1340.6 L2026.3,1341.7 L2029.2,1340.4 L2032.2,1341.0 L2035.1,1341.2 L2038.1,1341.6 L2041.0,1340.5 L2043.9,1340.6 L2046.9,1340.6 L2049.8,1340.8 L2052.8,1340.9 L2055.7,1341.7 L2058.6,1341.6 L2061.6,1341.6 L2064.5,1340.2 L2067.5,1340.3 L2070.4,1341.3 L2073.3,1341.6 L2076.3,1341.0 L2079.2,1341.1 L2082.2,1340.2 L2085.1,1340.8 L2088.0,1341.7 L2091.0,1341.5 L2093.9,1341.6 L2096.9,1341.8 L2099.8,1340.6 L2102.7,1340.4 L2105.7,1340.4 L2108.6,1341.0 L2111.6,1341.3 L2114.5,1341.7 L2117.4,1341.4 L2120.4,1341.2 L2123.3,1341.4 L2126.3,1340.9 L2129.2,1341.1 L2132.1,1340.3 L2135.1,1341.5 L2138.0,1340.6 L2141.0,1341.7 L2143.9,1341.2 L2146.8,1340.7 L2149.8,1340.4 L2152.7,1340.6 L2155.7,1341.2 L2158.6,1341.3 L2161.5,1340.4 L2164.5,1340.3 L2167.4,1341.0 L2170.4,1341.1 L2173.3,1340.8 L2176.2,1340.6 L2179.2,1341.2 L2182.1,1340.2 L2185.1,1340.7 L2188.0,1340.9 L2190.9,1341.7 L2193.9,1341.2 L2196.8,1341.6 L2199.8,1341.0 L2202.7,1340.6 L2205.6,1340.6 L2208.6,1341.7 L2211.5,1341.3 L2214.5,1340.7 L2217.4,1340.2 L2220.3,1341.0 L2223.3,1341.3 L2226.2,1340.9 L2229.2,1340.6 L2232.1,1341.3 L2235.0,1341.7 L2238.0,1340.6 L2240.9,1340.3 L2243.9,1340.7 L2246.8,1340.9 L2249.7,1341.3 L2252.7,1340.5 L2255.6,1341.5 L2258.6,1335.0 L2261.5,1341.0 L2264.4,1313.8 L2267.4,1336.0 L2270.3,1340.7 L2273.3,1330.0 L2276.2,1340.6 L2279.1,1340.6 L2282.1,1335.0 L2285.0,1340.7 L2288.0,1341.7 L2290.9,1336.0 L2293.8,1325.0 L2296.8,1340.6 L2299.7,1340.9 L2302.7,1341.3 L2305.6,1341.7 L2308.5,1340.4 L2311.5,1337.0 L2314.4,1340.5 L2317.4,1341.8 L2320.3,1340.4 L2323.2,1340.3 L2326.2,1340.3 L2329.1,1340.8 L2332.1,1341.6 L2335.0,1341.6 L2337.9,1336.0 L2340.9,1341.8 L2343.8,1341.7 L2346.8,1340.7 L2349.7,1340.5 L2352.6,1341.7 L2355.6,1337.0 L2358.5,1340.3 L2361.5,1341.3 L2364.4,1340.8 L2367.3,1332.5 L2370.3,1340.7 L2373.2,1340.5 L2376.2,1328.8 L2379.1,1340.6 L2382.0,1332.0 L2385.0,1341.7 L2387.9,1336.0 L2390.9,1341.7 L2393.8,1340.5 L2396.7,1337.0 L2399.7,1341.5 L2402.6,1341.5 L2405.6,1340.9 L2408.5,1340.3 L2411.4,1333.0 L2414.4,1340.8 L2417.3,1341.7 L2420.3,1340.5 L2423.2,1340.8 L2426.1,1336.0 L2429.1,1340.2 L2432.0,1337.5 L2435.0,1341.5 L2437.9,1341.4 L2440.8,1340.3 L2443.8,1340.3 L2446.7,1340.3 L2449.7,1341.7 L2452.6,1340.6 L2455.5,1331.6 L2458.5,1341.6 L2461.4,1340.7 L2464.4,1340.6 L2467.3,1341.7 L2470.2,1341.2 L2473.2,1345.6 L2476.1,1341.3 L2479.1,1344.0 L2482.0,1340.6" fill="none" stroke="#947ef1" stroke-width="2" stroke-linejoin="round"/>
<rect x="1595.5" y="1308" width="7" height="25" rx="1.5" fill="#a3a6c0"/>
<rect x="2479" y="1308" width="7" height="25" rx="1.5" fill="#a3a6c0"/>
</svg>
<div class="ann" id="a1"></div>
<div class="ann" id="a2"></div>
<svg width="2560" height="1440" viewBox="0 0 2560 1440">
<defs><filter id="glow" x="-50%" y="-50%" width="200%" height="200%"><feGaussianBlur stdDeviation="22"/></filter><filter id="sh" x="-50%" y="-50%" width="200%" height="200%"><feGaussianBlur stdDeviation="3"/></filter></defs>
<g opacity="0.6" filter="url(#glow)"><line x1="1163.0" y1="998.0" x2="967.0" y2="1203.5" stroke="#8b66f5" stroke-width="6.3"/><path d="M947.0,1224.5 L955.7,1190.0 L981.1,1214.1 Z" fill="#8b66f5"/><line x1="2209.0" y1="998.0" x2="2321.5" y2="1111.0" stroke="#8b66f5" stroke-width="6.3"/><path d="M2342.0,1131.5 L2307.7,1121.9 L2332.5,1097.2 Z" fill="#8b66f5"/></g>
<g opacity="0.55" filter="url(#sh)" transform="translate(3,4)"><g style="filter:brightness(0)"><line x1="1163.0" y1="998.0" x2="967.0" y2="1203.5" stroke="#8b66f5" stroke-width="6.3"/><path d="M947.0,1224.5 L955.7,1190.0 L981.1,1214.1 Z" fill="#8b66f5"/><line x1="2209.0" y1="998.0" x2="2321.5" y2="1111.0" stroke="#8b66f5" stroke-width="6.3"/><path d="M2342.0,1131.5 L2307.7,1121.9 L2332.5,1097.2 Z" fill="#8b66f5"/></g></g>
<line x1="1163.0" y1="998.0" x2="967.0" y2="1203.5" stroke="#8b66f5" stroke-width="6.3"/><path d="M947.0,1224.5 L955.7,1190.0 L981.1,1214.1 Z" fill="#8b66f5"/><line x1="2209.0" y1="998.0" x2="2321.5" y2="1111.0" stroke="#8b66f5" stroke-width="6.3"/><path d="M2342.0,1131.5 L2307.7,1121.9 L2332.5,1097.2 Z" fill="#8b66f5"/>
<g font-family='"Liberation Sans", sans-serif' font-size="32.5" fill="#f4f3fc" stroke="#f4f3fc" stroke-width="0.5" text-anchor="middle">
<text x="1166.5" y="875.5" textLength="338" lengthAdjust="spacingAndGlyphs">-1.93B in XRP Realized</text>
<text x="1166.5" y="926.5" textLength="391" lengthAdjust="spacingAndGlyphs">Losses, Let to +114% Price</text>
<text x="1166.5" y="975.5" textLength="441" lengthAdjust="spacingAndGlyphs">Increase Over Next 8 Months</text>
<text x="2014" y="975.5" textLength="208" lengthAdjust="spacingAndGlyphs">-908M in XRP</text>
<text x="2014" y="1027" textLength="239" lengthAdjust="spacingAndGlyphs">Realized Losses</text>
</g>
</svg>
</body></html>
